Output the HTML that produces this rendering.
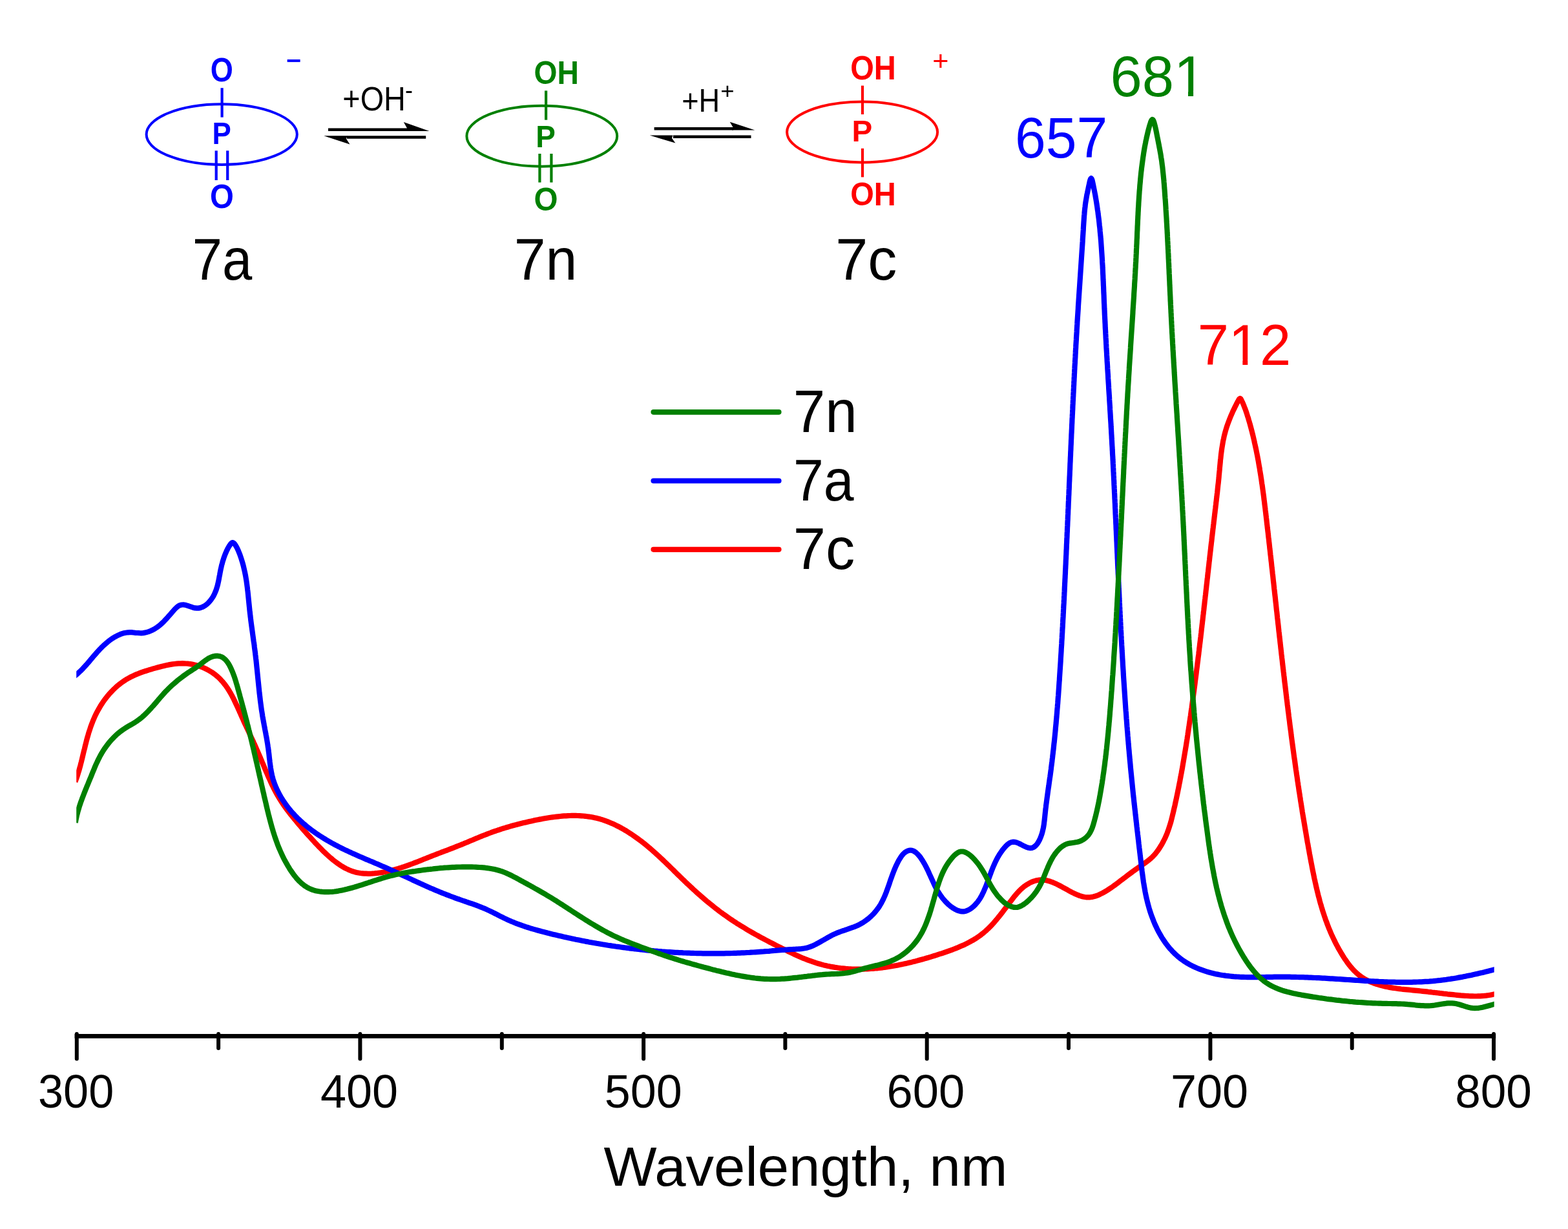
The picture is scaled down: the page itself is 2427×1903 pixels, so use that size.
<!DOCTYPE html>
<html><head><meta charset="utf-8"><style>
html,body{margin:0;padding:0;background:#fff;}
svg{display:block;}
text{font-family:"Liberation Sans",Arial,sans-serif;}
</style></head><body>
<svg xmlns="http://www.w3.org/2000/svg" width="2427" height="1903" viewBox="0 0 2427 1903">
<rect width="2427" height="1903" fill="#fff"/>
<defs><clipPath id="clip_p681" clipPathUnits="userSpaceOnUse"><path clip-rule="evenodd" d="M-50,-176 H352 V88 H-50 Z M95.86,-7.92 H119.68 V4.40 H95.86 Z M127.69,-7.92 H148.90 V4.40 H127.69 Z"/></clipPath><clipPath id="clip_p712" clipPathUnits="userSpaceOnUse"><path clip-rule="evenodd" d="M-50,-176 H352 V88 H-50 Z M46.93,-7.92 H70.75 V4.40 H46.93 Z M78.76,-7.92 H99.97 V4.40 H78.76 Z"/></clipPath></defs>
<path d="M115.6,1604.3 H2315.2" stroke="#000" stroke-width="6.8" fill="none"/>
<line x1="118.8" y1="1601.1" x2="118.8" y2="1639.5" stroke="#000" stroke-width="6" stroke-linecap="round"/>
<text transform="matrix(0.9754,0,0,0.998,59.07,1714.7)" font-size="72" font-weight="normal" fill="#000">300</text>
<line x1="338.1" y1="1601.1" x2="338.1" y2="1623" stroke="#000" stroke-width="6" stroke-linecap="round"/>
<line x1="557.4" y1="1601.1" x2="557.4" y2="1639.5" stroke="#000" stroke-width="6" stroke-linecap="round"/>
<text transform="matrix(0.9991,0,0,1.0098,495.9,1715.0)" font-size="72" font-weight="normal" fill="#000">400</text>
<line x1="776.8" y1="1601.1" x2="776.8" y2="1623" stroke="#000" stroke-width="6" stroke-linecap="round"/>
<line x1="996.1" y1="1601.1" x2="996.1" y2="1639.5" stroke="#000" stroke-width="6" stroke-linecap="round"/>
<text transform="matrix(0.9982,0,0,1.0098,935.71,1715.0)" font-size="72" font-weight="normal" fill="#000">500</text>
<line x1="1215.4" y1="1601.1" x2="1215.4" y2="1623" stroke="#000" stroke-width="6" stroke-linecap="round"/>
<line x1="1434.7" y1="1601.1" x2="1434.7" y2="1639.5" stroke="#000" stroke-width="6" stroke-linecap="round"/>
<text transform="matrix(1.0044,0,0,1.0098,1372.48,1715.0)" font-size="72" font-weight="normal" fill="#000">600</text>
<line x1="1654.0" y1="1601.1" x2="1654.0" y2="1623" stroke="#000" stroke-width="6" stroke-linecap="round"/>
<line x1="1873.4" y1="1601.1" x2="1873.4" y2="1639.5" stroke="#000" stroke-width="6" stroke-linecap="round"/>
<text transform="matrix(1.0,0,0,1.0098,1811.9,1715.0)" font-size="72" font-weight="normal" fill="#000">700</text>
<line x1="2092.7" y1="1601.1" x2="2092.7" y2="1623" stroke="#000" stroke-width="6" stroke-linecap="round"/>
<line x1="2312.0" y1="1601.1" x2="2312.0" y2="1639.5" stroke="#000" stroke-width="6" stroke-linecap="round"/>
<text transform="matrix(0.9877,0,0,1.0118,2252.24,1715.3)" font-size="72" font-weight="normal" fill="#000">800</text>
<text transform="matrix(0.9995,0,0,0.9802,934.4,1836.46)" font-size="87" font-weight="normal" fill="#000">Wavelength, nm</text>
<clipPath id="plotclip"><rect x="118.2" y="0" width="2194.5" height="1903"/></clipPath>
<g clip-path="url(#plotclip)" fill="none" stroke-linejoin="round">
<path d="M116.4,1210.6 117.4,1207.9 118.3,1205.3 119.3,1202.6 120.2,1199.8 121.0,1197.1 121.9,1194.3 122.7,1191.5 123.5,1188.6 124.3,1185.8 125.0,1182.9 125.8,1180.0 126.5,1177.1 127.2,1174.2 127.9,1171.3 128.6,1168.3 129.3,1165.4 130.0,1162.4 130.8,1159.5 131.5,1156.5 132.2,1153.5 133.0,1150.6 133.7,1147.6 134.5,1144.6 135.3,1141.7 136.2,1138.7 137.0,1135.8 137.9,1132.9 138.9,1130.0 139.8,1127.1 140.8,1124.2 141.9,1121.3 143.0,1118.5 144.1,1115.6 145.3,1112.8 146.5,1110.0 147.8,1107.3 149.1,1104.6 150.5,1101.9 152.0,1099.2 153.5,1096.6 155.0,1094.0 156.6,1091.4 158.3,1088.9 159.9,1086.4 161.7,1083.9 163.5,1081.5 165.3,1079.2 167.2,1076.9 169.1,1074.6 171.1,1072.4 173.1,1070.3 175.2,1068.2 177.3,1066.1 179.4,1064.1 181.6,1062.2 183.9,1060.3 186.2,1058.5 188.5,1056.8 190.9,1055.1 193.3,1053.5 195.8,1051.9 198.3,1050.5 200.8,1049.1 203.4,1047.7 206.1,1046.5 208.7,1045.3 211.4,1044.1 214.2,1043.0 216.9,1041.9 219.7,1040.9 222.5,1039.9 225.4,1039.0 228.3,1038.1 231.2,1037.2 234.1,1036.3 237.0,1035.4 240.0,1034.6 243.0,1033.8 245.9,1033.0 248.9,1032.2 252.0,1031.4 255.0,1030.7 258.0,1030.1 261.1,1029.4 264.1,1028.9 267.1,1028.4 270.2,1028.0 273.2,1027.7 276.3,1027.4 279.3,1027.3 282.3,1027.2 285.4,1027.3 288.4,1027.5 291.4,1027.7 294.4,1028.1 297.3,1028.6 300.3,1029.2 303.2,1029.9 306.1,1030.8 308.9,1031.7 311.7,1032.7 314.5,1033.8 317.2,1035.0 319.9,1036.3 322.5,1037.7 325.1,1039.2 327.6,1040.7 330.0,1042.4 332.4,1044.1 334.7,1045.9 336.9,1047.8 339.0,1049.7 341.1,1051.8 343.0,1053.9 345.0,1056.1 346.8,1058.3 348.6,1060.6 350.3,1062.9 351.9,1065.3 353.5,1067.8 355.1,1070.3 356.6,1072.8 358.0,1075.4 359.5,1078.1 360.8,1080.7 362.2,1083.4 363.5,1086.1 364.8,1088.9 366.1,1091.6 367.4,1094.4 368.6,1097.2 369.9,1100.0 371.1,1102.8 372.4,1105.6 373.6,1108.4 374.9,1111.3 376.2,1114.1 377.4,1116.9 378.7,1119.7 380.0,1122.5 381.3,1125.3 382.6,1128.1 383.9,1130.8 385.2,1133.6 386.5,1136.4 387.7,1139.1 389.0,1141.9 390.3,1144.7 391.6,1147.4 392.8,1150.2 394.1,1152.9 395.3,1155.7 396.5,1158.4 397.7,1161.1 398.9,1163.9 400.1,1166.6 401.3,1169.3 402.4,1172.0 403.6,1174.7 404.7,1177.4 405.8,1180.1 407.0,1182.8 408.1,1185.5 409.2,1188.2 410.3,1190.9 411.5,1193.6 412.6,1196.3 413.8,1198.9 414.9,1201.6 416.1,1204.3 417.3,1206.9 418.5,1209.6 419.7,1212.2 420.9,1214.9 422.2,1217.5 423.5,1220.2 424.9,1222.8 426.2,1225.4 427.6,1228.0 429.1,1230.6 430.6,1233.2 432.1,1235.8 433.7,1238.3 435.3,1240.9 437.0,1243.4 438.7,1246.0 440.5,1248.5 442.3,1251.0 444.1,1253.5 446.0,1256.0 447.9,1258.4 449.8,1260.9 451.7,1263.3 453.6,1265.7 455.6,1268.1 457.6,1270.5 459.6,1272.9 461.5,1275.3 463.5,1277.6 465.5,1279.9 467.4,1282.2 469.4,1284.5 471.4,1286.8 473.4,1289.0 475.3,1291.2 477.3,1293.4 479.3,1295.6 481.3,1297.8 483.3,1300.0 485.2,1302.1 487.2,1304.3 489.2,1306.4 491.2,1308.5 493.2,1310.6 495.2,1312.7 497.2,1314.7 499.3,1316.8 501.3,1318.8 503.4,1320.8 505.5,1322.8 507.7,1324.8 509.9,1326.8 512.2,1328.7 514.5,1330.7 516.9,1332.6 519.4,1334.5 521.9,1336.3 524.4,1338.1 527.0,1339.9 529.6,1341.5 532.3,1343.1 535.0,1344.6 537.8,1345.9 540.6,1347.2 543.4,1348.3 546.3,1349.3 549.1,1350.2 552.0,1350.9 554.9,1351.5 557.9,1352.0 560.8,1352.3 563.8,1352.6 566.7,1352.7 569.7,1352.8 572.7,1352.8 575.6,1352.7 578.6,1352.5 581.6,1352.2 584.5,1351.9 587.5,1351.5 590.4,1351.1 593.3,1350.6 596.2,1350.0 599.2,1349.4 602.1,1348.8 605.0,1348.1 607.9,1347.3 610.7,1346.6 613.6,1345.7 616.5,1344.9 619.4,1344.0 622.2,1343.0 625.1,1342.1 628.0,1341.1 630.8,1340.1 633.6,1339.1 636.5,1338.0 639.3,1337.0 642.1,1335.9 645.0,1334.8 647.8,1333.7 650.6,1332.6 653.4,1331.5 656.2,1330.3 659.0,1329.2 661.8,1328.1 664.6,1327.0 667.4,1325.9 670.2,1324.8 673.0,1323.7 675.8,1322.6 678.6,1321.5 681.4,1320.5 684.1,1319.4 686.9,1318.4 689.7,1317.3 692.5,1316.3 695.2,1315.2 698.0,1314.1 700.8,1313.1 703.6,1312.0 706.3,1310.9 709.1,1309.8 711.9,1308.7 714.6,1307.6 717.4,1306.5 720.2,1305.3 723.0,1304.2 725.7,1303.0 728.5,1301.8 731.3,1300.7 734.1,1299.5 736.9,1298.3 739.6,1297.2 742.4,1296.0 745.2,1294.9 748.0,1293.8 750.8,1292.7 753.6,1291.6 756.4,1290.5 759.2,1289.5 762.0,1288.4 764.8,1287.4 767.7,1286.5 770.5,1285.5 773.3,1284.6 776.1,1283.6 779.0,1282.7 781.8,1281.9 784.7,1281.0 787.5,1280.2 790.4,1279.3 793.2,1278.5 796.1,1277.7 799.0,1277.0 801.9,1276.2 804.8,1275.5 807.7,1274.8 810.6,1274.1 813.5,1273.4 816.4,1272.7 819.3,1272.0 822.3,1271.4 825.2,1270.8 828.2,1270.1 831.1,1269.5 834.1,1268.9 837.1,1268.4 840.1,1267.8 843.1,1267.3 846.1,1266.8 849.1,1266.3 852.1,1265.8 855.1,1265.4 858.1,1265.0 861.1,1264.6 864.1,1264.3 867.1,1264.0 870.1,1263.7 873.1,1263.4 876.1,1263.3 879.1,1263.1 882.1,1263.0 885.1,1262.9 888.1,1262.9 891.1,1262.9 894.0,1263.0 897.0,1263.1 900.0,1263.3 902.9,1263.5 905.9,1263.8 908.8,1264.2 911.7,1264.6 914.6,1265.0 917.5,1265.6 920.4,1266.2 923.3,1266.8 926.2,1267.6 929.0,1268.3 931.9,1269.2 934.7,1270.1 937.5,1271.1 940.3,1272.1 943.0,1273.2 945.8,1274.4 948.5,1275.6 951.3,1276.8 954.0,1278.2 956.7,1279.5 959.4,1280.9 962.0,1282.4 964.7,1283.8 967.3,1285.4 969.9,1286.9 972.5,1288.6 975.0,1290.2 977.6,1291.9 980.1,1293.6 982.6,1295.3 985.1,1297.1 987.6,1298.9 990.0,1300.7 992.5,1302.6 994.9,1304.4 997.3,1306.3 999.6,1308.2 1002.0,1310.2 1004.3,1312.1 1006.6,1314.0 1008.9,1316.0 1011.1,1318.0 1013.4,1320.0 1015.6,1322.0 1017.8,1324.0 1020.0,1326.0 1022.1,1328.0 1024.3,1330.0 1026.4,1332.0 1028.6,1334.1 1030.7,1336.1 1032.8,1338.2 1035.0,1340.2 1037.1,1342.3 1039.2,1344.4 1041.3,1346.4 1043.4,1348.5 1045.5,1350.6 1047.6,1352.7 1049.7,1354.7 1051.9,1356.8 1054.0,1358.9 1056.1,1361.0 1058.3,1363.0 1060.4,1365.1 1062.6,1367.2 1064.8,1369.3 1067.0,1371.3 1069.2,1373.4 1071.4,1375.4 1073.6,1377.5 1075.9,1379.5 1078.1,1381.6 1080.4,1383.6 1082.7,1385.6 1085.0,1387.6 1087.3,1389.6 1089.6,1391.6 1091.9,1393.6 1094.2,1395.6 1096.6,1397.5 1098.9,1399.4 1101.3,1401.3 1103.6,1403.2 1106.0,1405.1 1108.4,1407.0 1110.8,1408.8 1113.2,1410.7 1115.6,1412.5 1118.0,1414.2 1120.4,1416.0 1122.9,1417.7 1125.3,1419.4 1127.7,1421.1 1130.2,1422.8 1132.7,1424.5 1135.1,1426.1 1137.6,1427.7 1140.1,1429.4 1142.6,1430.9 1145.1,1432.5 1147.6,1434.1 1150.1,1435.6 1152.6,1437.1 1155.2,1438.7 1157.7,1440.2 1160.2,1441.7 1162.8,1443.1 1165.4,1444.6 1167.9,1446.1 1170.5,1447.5 1173.1,1448.9 1175.7,1450.4 1178.3,1451.8 1180.9,1453.2 1183.6,1454.6 1186.2,1456.0 1188.9,1457.4 1191.5,1458.8 1194.2,1460.2 1196.8,1461.5 1199.5,1462.9 1202.2,1464.3 1204.9,1465.7 1207.6,1467.0 1210.3,1468.4 1213.1,1469.7 1215.8,1471.1 1218.6,1472.4 1221.3,1473.8 1224.1,1475.1 1226.8,1476.4 1229.6,1477.7 1232.4,1479.0 1235.2,1480.2 1238.0,1481.5 1240.8,1482.7 1243.6,1483.9 1246.5,1485.0 1249.3,1486.1 1252.1,1487.2 1255.0,1488.2 1257.8,1489.2 1260.7,1490.2 1263.5,1491.1 1266.4,1492.0 1269.3,1492.8 1272.2,1493.6 1275.1,1494.4 1278.0,1495.0 1280.9,1495.7 1283.8,1496.3 1286.7,1496.9 1289.6,1497.4 1292.5,1497.9 1295.4,1498.3 1298.3,1498.7 1301.3,1499.1 1304.2,1499.4 1307.1,1499.7 1310.1,1500.0 1313.0,1500.2 1316.0,1500.3 1318.9,1500.5 1321.9,1500.6 1324.8,1500.7 1327.8,1500.7 1330.7,1500.7 1333.7,1500.7 1336.7,1500.6 1339.6,1500.5 1342.6,1500.4 1345.6,1500.2 1348.5,1500.0 1351.5,1499.8 1354.5,1499.5 1357.4,1499.3 1360.4,1499.0 1363.4,1498.6 1366.3,1498.3 1369.3,1497.9 1372.3,1497.5 1375.2,1497.0 1378.2,1496.5 1381.2,1496.0 1384.2,1495.5 1387.1,1495.0 1390.1,1494.4 1393.0,1493.8 1396.0,1493.2 1399.0,1492.6 1401.9,1491.9 1404.9,1491.3 1407.8,1490.6 1410.8,1489.9 1413.7,1489.1 1416.7,1488.4 1419.6,1487.6 1422.6,1486.8 1425.5,1486.0 1428.4,1485.2 1431.3,1484.4 1434.3,1483.5 1437.2,1482.7 1440.1,1481.8 1443.0,1480.9 1445.9,1480.0 1448.8,1479.1 1451.7,1478.1 1454.6,1477.2 1457.5,1476.3 1460.4,1475.3 1463.2,1474.3 1466.1,1473.3 1468.9,1472.3 1471.8,1471.3 1474.6,1470.3 1477.4,1469.2 1480.2,1468.1 1483.0,1467.0 1485.7,1465.8 1488.5,1464.6 1491.2,1463.4 1493.9,1462.2 1496.5,1460.9 1499.1,1459.5 1501.7,1458.1 1504.3,1456.7 1506.8,1455.3 1509.3,1453.7 1511.8,1452.2 1514.2,1450.5 1516.6,1448.8 1518.9,1447.1 1521.2,1445.3 1523.5,1443.4 1525.7,1441.5 1527.8,1439.5 1530.0,1437.5 1532.1,1435.4 1534.1,1433.3 1536.2,1431.1 1538.2,1428.9 1540.1,1426.6 1542.1,1424.3 1544.0,1422.0 1545.9,1419.6 1547.8,1417.3 1549.7,1414.9 1551.6,1412.4 1553.4,1410.0 1555.3,1407.5 1557.2,1405.1 1559.0,1402.6 1560.9,1400.1 1562.7,1397.6 1564.6,1395.2 1566.5,1392.7 1568.4,1390.2 1570.3,1387.8 1572.3,1385.5 1574.3,1383.1 1576.4,1380.9 1578.5,1378.7 1580.6,1376.6 1582.9,1374.6 1585.2,1372.7 1587.6,1371.0 1590.0,1369.4 1592.5,1367.9 1595.1,1366.5 1597.7,1365.4 1600.4,1364.4 1603.1,1363.6 1605.8,1363.0 1608.6,1362.6 1611.4,1362.4 1614.2,1362.5 1617.0,1362.8 1619.8,1363.3 1622.6,1364.0 1625.5,1364.8 1628.3,1365.8 1631.1,1367.0 1634.0,1368.2 1636.8,1369.6 1639.6,1371.0 1642.5,1372.5 1645.3,1374.1 1648.1,1375.6 1651.0,1377.2 1653.8,1378.8 1656.7,1380.3 1659.5,1381.8 1662.3,1383.2 1665.1,1384.5 1667.9,1385.7 1670.8,1386.8 1673.6,1387.7 1676.4,1388.5 1679.1,1389.0 1681.9,1389.3 1684.7,1389.4 1687.4,1389.3 1690.2,1388.9 1692.9,1388.3 1695.7,1387.5 1698.4,1386.6 1701.1,1385.5 1703.7,1384.2 1706.4,1382.9 1709.1,1381.4 1711.7,1379.9 1714.3,1378.2 1716.9,1376.5 1719.5,1374.8 1722.1,1373.0 1724.7,1371.1 1727.2,1369.3 1729.7,1367.4 1732.2,1365.5 1734.7,1363.6 1737.2,1361.7 1739.7,1359.8 1742.2,1357.9 1744.6,1356.0 1747.1,1354.2 1749.5,1352.4 1751.9,1350.6 1754.3,1348.8 1756.7,1347.1 1759.1,1345.4 1761.4,1343.7 1763.8,1342.0 1766.1,1340.4 1768.5,1338.8 1770.8,1337.3 1773.1,1335.6 1775.3,1334.0 1777.5,1332.3 1779.7,1330.5 1781.9,1328.6 1784.0,1326.6 1786.0,1324.5 1788.1,1322.2 1790.0,1319.8 1791.9,1317.3 1793.7,1314.7 1795.4,1312.0 1797.1,1309.3 1798.7,1306.6 1800.2,1303.8 1801.6,1301.0 1803.0,1298.3 1804.3,1295.5 1805.5,1292.7 1806.6,1289.9 1807.6,1287.1 1808.6,1284.3 1809.6,1281.4 1810.5,1278.6 1811.4,1275.8 1812.2,1273.0 1813.0,1270.1 1813.7,1267.3 1814.4,1264.4 1815.1,1261.5 1815.8,1258.7 1816.5,1255.8 1817.1,1252.9 1817.8,1250.1 1818.5,1247.2 1819.1,1244.3 1819.7,1241.4 1820.4,1238.5 1821.0,1235.6 1821.6,1232.7 1822.2,1229.8 1822.8,1226.9 1823.4,1223.9 1824.0,1221.0 1824.6,1218.1 1825.1,1215.2 1825.7,1212.2 1826.3,1209.3 1826.8,1206.4 1827.4,1203.4 1827.9,1200.5 1828.5,1197.5 1829.0,1194.6 1829.6,1191.6 1830.1,1188.7 1830.6,1185.7 1831.1,1182.7 1831.6,1179.8 1832.1,1176.8 1832.6,1173.8 1833.1,1170.9 1833.6,1167.9 1834.1,1164.9 1834.6,1162.0 1835.1,1159.0 1835.6,1156.0 1836.1,1153.0 1836.5,1150.1 1837.0,1147.1 1837.5,1144.1 1837.9,1141.1 1838.4,1138.1 1838.8,1135.1 1839.3,1132.2 1839.7,1129.2 1840.2,1126.2 1840.6,1123.2 1841.0,1120.2 1841.5,1117.3 1841.9,1114.3 1842.3,1111.3 1842.8,1108.3 1843.2,1105.3 1843.6,1102.4 1844.0,1099.4 1844.5,1096.4 1844.9,1093.4 1845.3,1090.4 1845.7,1087.4 1846.1,1084.5 1846.5,1081.5 1846.9,1078.5 1847.3,1075.5 1847.7,1072.5 1848.1,1069.6 1848.5,1066.6 1848.9,1063.6 1849.3,1060.6 1849.7,1057.7 1850.0,1054.7 1850.4,1051.7 1850.8,1048.7 1851.2,1045.7 1851.6,1042.8 1851.9,1039.8 1852.3,1036.8 1852.7,1033.8 1853.1,1030.8 1853.4,1027.9 1853.8,1024.9 1854.2,1021.9 1854.5,1018.9 1854.9,1016.0 1855.3,1013.0 1855.6,1010.0 1856.0,1007.0 1856.3,1004.0 1856.7,1001.1 1857.0,998.1 1857.4,995.1 1857.8,992.1 1858.1,989.2 1858.5,986.2 1858.8,983.2 1859.2,980.2 1859.5,977.3 1859.8,974.3 1860.2,971.3 1860.5,968.3 1860.9,965.4 1861.2,962.4 1861.6,959.4 1861.9,956.4 1862.2,953.5 1862.6,950.5 1862.9,947.5 1863.3,944.5 1863.6,941.6 1863.9,938.6 1864.3,935.6 1864.6,932.6 1864.9,929.7 1865.3,926.7 1865.6,923.7 1866.0,920.7 1866.3,917.8 1866.6,914.8 1867.0,911.8 1867.3,908.8 1867.6,905.9 1868.0,902.9 1868.3,899.9 1868.6,896.9 1869.0,894.0 1869.3,891.0 1869.6,888.0 1870.0,885.0 1870.3,882.1 1870.6,879.1 1871.0,876.1 1871.3,873.2 1871.6,870.2 1872.0,867.2 1872.3,864.2 1872.6,861.3 1873.0,858.3 1873.3,855.3 1873.7,852.3 1874.0,849.4 1874.3,846.4 1874.7,843.4 1875.0,840.5 1875.4,837.5 1875.7,834.5 1876.0,831.5 1876.4,828.6 1876.7,825.6 1877.1,822.6 1877.4,819.6 1877.8,816.7 1878.1,813.7 1878.5,810.7 1878.8,807.8 1879.2,804.8 1879.5,801.8 1879.9,798.8 1880.2,795.9 1880.6,792.9 1880.9,789.9 1881.3,787.0 1881.6,784.0 1882.0,781.0 1882.3,778.0 1882.7,775.1 1883.0,772.1 1883.4,769.1 1883.7,766.1 1884.1,763.2 1884.4,760.2 1884.7,757.2 1885.0,754.2 1885.3,751.3 1885.7,748.3 1886.0,745.3 1886.3,742.3 1886.6,739.4 1886.8,736.4 1887.1,733.4 1887.4,730.4 1887.7,727.4 1887.9,724.5 1888.2,721.5 1888.5,718.5 1888.8,715.5 1889.0,712.5 1889.4,709.5 1889.7,706.6 1890.0,703.6 1890.4,700.6 1890.8,697.6 1891.2,694.6 1891.7,691.6 1892.2,688.6 1892.7,685.6 1893.2,682.6 1893.9,679.6 1894.5,676.6 1895.2,673.6 1896.0,670.6 1896.8,667.6 1897.7,664.6 1898.6,661.6 1899.6,658.6 1900.7,655.6 1901.8,652.6 1902.9,649.7 1904.1,646.7 1905.3,643.8 1906.6,640.9 1907.8,638.1 1909.1,635.3 1910.4,632.6 1911.7,629.9 1913.0,627.3 1914.3,624.7 1915.6,622.3 1916.9,619.9 1918.1,617.8 1919.4,616.9 1920.6,617.8 1921.7,619.9 1922.9,622.4 1924.0,624.9 1925.1,627.5 1926.1,630.2 1927.2,632.9 1928.2,635.7 1929.2,638.5 1930.1,641.4 1931.0,644.3 1932.0,647.2 1932.8,650.1 1933.7,653.1 1934.6,656.1 1935.4,659.1 1936.2,662.1 1937.0,665.1 1937.8,668.1 1938.5,671.1 1939.3,674.1 1940.0,677.1 1940.7,680.1 1941.4,683.1 1942.0,686.1 1942.7,689.1 1943.3,692.0 1944.0,695.0 1944.6,698.0 1945.2,701.0 1945.8,704.0 1946.4,707.0 1946.9,709.9 1947.5,712.9 1948.0,715.9 1948.5,718.9 1949.0,721.9 1949.6,724.8 1950.0,727.8 1950.5,730.8 1951.0,733.8 1951.5,736.7 1951.9,739.7 1952.4,742.7 1952.8,745.7 1953.2,748.6 1953.7,751.6 1954.1,754.6 1954.5,757.5 1954.9,760.5 1955.3,763.5 1955.7,766.4 1956.1,769.4 1956.4,772.4 1956.8,775.3 1957.2,778.3 1957.5,781.3 1957.9,784.2 1958.3,787.2 1958.6,790.2 1959.0,793.1 1959.3,796.1 1959.7,799.1 1960.0,802.0 1960.4,805.0 1960.7,808.0 1961.0,810.9 1961.4,813.9 1961.7,816.9 1962.1,819.9 1962.4,822.8 1962.8,825.8 1963.1,828.8 1963.4,831.7 1963.8,834.7 1964.1,837.7 1964.4,840.6 1964.8,843.6 1965.1,846.6 1965.4,849.6 1965.8,852.5 1966.1,855.5 1966.4,858.5 1966.8,861.5 1967.1,864.4 1967.4,867.4 1967.8,870.4 1968.1,873.3 1968.4,876.3 1968.7,879.3 1969.1,882.3 1969.4,885.2 1969.7,888.2 1970.1,891.2 1970.4,894.2 1970.7,897.1 1971.0,900.1 1971.4,903.1 1971.7,906.1 1972.0,909.0 1972.3,912.0 1972.7,915.0 1973.0,918.0 1973.3,920.9 1973.7,923.9 1974.0,926.9 1974.3,929.9 1974.6,932.8 1975.0,935.8 1975.3,938.8 1975.6,941.8 1975.9,944.8 1976.3,947.7 1976.6,950.7 1976.9,953.7 1977.2,956.7 1977.6,959.6 1977.9,962.6 1978.2,965.6 1978.6,968.6 1978.9,971.6 1979.2,974.5 1979.5,977.5 1979.9,980.5 1980.2,983.5 1980.5,986.4 1980.9,989.4 1981.2,992.4 1981.5,995.4 1981.9,998.4 1982.2,1001.3 1982.5,1004.3 1982.9,1007.3 1983.2,1010.3 1983.5,1013.2 1983.9,1016.2 1984.2,1019.2 1984.6,1022.2 1984.9,1025.2 1985.2,1028.1 1985.6,1031.1 1985.9,1034.1 1986.3,1037.1 1986.6,1040.0 1987.0,1043.0 1987.3,1046.0 1987.7,1049.0 1988.0,1052.0 1988.3,1054.9 1988.7,1057.9 1989.1,1060.9 1989.4,1063.9 1989.8,1066.8 1990.1,1069.8 1990.5,1072.8 1990.8,1075.8 1991.2,1078.8 1991.5,1081.7 1991.9,1084.7 1992.3,1087.7 1992.6,1090.7 1993.0,1093.6 1993.4,1096.6 1993.7,1099.6 1994.1,1102.6 1994.5,1105.5 1994.8,1108.5 1995.2,1111.5 1995.6,1114.5 1996.0,1117.4 1996.3,1120.4 1996.7,1123.4 1997.1,1126.4 1997.5,1129.4 1997.9,1132.3 1998.3,1135.3 1998.6,1138.3 1999.0,1141.3 1999.4,1144.2 1999.8,1147.2 2000.2,1150.2 2000.6,1153.1 2001.0,1156.1 2001.4,1159.1 2001.8,1162.1 2002.2,1165.0 2002.6,1168.0 2003.0,1171.0 2003.4,1174.0 2003.9,1176.9 2004.3,1179.9 2004.7,1182.9 2005.1,1185.8 2005.5,1188.8 2005.9,1191.8 2006.4,1194.8 2006.8,1197.7 2007.2,1200.7 2007.7,1203.7 2008.1,1206.6 2008.5,1209.6 2009.0,1212.6 2009.4,1215.6 2009.9,1218.5 2010.3,1221.5 2010.7,1224.5 2011.2,1227.4 2011.7,1230.4 2012.1,1233.4 2012.6,1236.3 2013.0,1239.3 2013.5,1242.3 2014.0,1245.2 2014.4,1248.2 2014.9,1251.2 2015.4,1254.1 2015.8,1257.1 2016.3,1260.1 2016.8,1263.0 2017.3,1266.0 2017.8,1268.9 2018.3,1271.9 2018.8,1274.9 2019.3,1277.8 2019.8,1280.8 2020.3,1283.8 2020.8,1286.7 2021.3,1289.7 2021.8,1292.6 2022.3,1295.6 2022.8,1298.6 2023.3,1301.5 2023.8,1304.5 2024.4,1307.4 2024.9,1310.4 2025.4,1313.4 2026.0,1316.3 2026.5,1319.3 2027.0,1322.2 2027.6,1325.2 2028.1,1328.1 2028.7,1331.1 2029.2,1334.1 2029.8,1337.0 2030.4,1340.0 2030.9,1342.9 2031.5,1345.9 2032.1,1348.8 2032.7,1351.8 2033.3,1354.7 2033.9,1357.6 2034.5,1360.6 2035.2,1363.5 2035.8,1366.4 2036.5,1369.4 2037.1,1372.3 2037.8,1375.2 2038.5,1378.1 2039.2,1381.0 2039.9,1383.9 2040.6,1386.8 2041.4,1389.7 2042.2,1392.6 2042.9,1395.5 2043.7,1398.4 2044.6,1401.2 2045.4,1404.1 2046.3,1407.0 2047.1,1409.8 2048.0,1412.6 2049.0,1415.5 2049.9,1418.3 2050.9,1421.1 2051.8,1423.9 2052.9,1426.7 2053.9,1429.5 2054.9,1432.3 2056.0,1435.1 2057.1,1437.9 2058.3,1440.6 2059.4,1443.4 2060.6,1446.1 2061.8,1448.8 2063.1,1451.5 2064.4,1454.2 2065.7,1456.9 2067.0,1459.6 2068.4,1462.3 2069.8,1464.9 2071.2,1467.6 2072.7,1470.2 2074.2,1472.8 2075.7,1475.4 2077.3,1478.0 2078.9,1480.6 2080.5,1483.2 2082.2,1485.7 2084.0,1488.2 2085.7,1490.7 2087.5,1493.1 2089.4,1495.5 2091.3,1497.8 2093.3,1500.1 2095.3,1502.3 2097.4,1504.4 2099.6,1506.5 2101.8,1508.4 2104.1,1510.3 2106.5,1512.1 2108.9,1513.8 2111.4,1515.4 2114.0,1516.8 2116.6,1518.2 2119.3,1519.5 2122.0,1520.7 2124.8,1521.8 2127.6,1522.9 2130.4,1523.8 2133.3,1524.7 2136.2,1525.6 2139.1,1526.3 2142.0,1527.0 2144.9,1527.7 2147.9,1528.3 2150.8,1528.9 2153.8,1529.4 2156.8,1529.9 2159.8,1530.3 2162.8,1530.7 2165.8,1531.1 2168.8,1531.5 2171.8,1531.8 2174.8,1532.1 2177.8,1532.4 2180.9,1532.7 2183.9,1533.0 2186.9,1533.3 2189.9,1533.6 2192.9,1533.9 2195.9,1534.2 2198.9,1534.5 2201.9,1534.8 2204.9,1535.1 2207.9,1535.4 2210.9,1535.8 2213.8,1536.1 2216.8,1536.5 2219.8,1536.8 2222.7,1537.2 2225.7,1537.5 2228.7,1537.9 2231.6,1538.2 2234.6,1538.6 2237.5,1538.9 2240.5,1539.3 2243.4,1539.6 2246.4,1539.9 2249.4,1540.2 2252.3,1540.5 2255.3,1540.8 2258.3,1541.1 2261.2,1541.4 2264.2,1541.6 2267.2,1541.8 2270.2,1542.0 2273.2,1542.2 2276.2,1542.3 2279.2,1542.4 2282.2,1542.5 2285.2,1542.5 2288.2,1542.4 2291.2,1542.3 2294.2,1542.1 2297.2,1541.9 2300.1,1541.6 2303.1,1541.2 2306.1,1540.8 2309.1,1540.2 2312.1,1539.6 2315.0,1538.9 2318.0,1538.1" stroke="#ff0000" stroke-width="8.2"/>
<path d="M113.3,1048.7 115.7,1046.8 118.1,1044.9 120.4,1042.9 122.6,1040.8 124.8,1038.8 126.9,1036.7 128.9,1034.5 130.9,1032.3 132.9,1030.2 134.9,1027.9 136.8,1025.7 138.7,1023.5 140.6,1021.2 142.5,1019.0 144.4,1016.7 146.3,1014.5 148.3,1012.2 150.2,1010.0 152.2,1007.8 154.2,1005.7 156.3,1003.5 158.4,1001.4 160.5,999.3 162.8,997.3 165.1,995.3 167.4,993.4 169.8,991.5 172.4,989.7 175.0,987.9 177.6,986.3 180.4,984.8 183.2,983.4 186.0,982.2 188.9,981.1 191.8,980.3 194.7,979.7 197.7,979.3 200.7,979.1 203.7,979.2 206.7,979.5 209.7,979.8 212.7,980.0 215.7,980.2 218.6,980.3 221.5,980.1 224.4,979.6 227.3,978.9 230.1,978.1 232.8,977.0 235.5,975.8 238.1,974.4 240.6,972.9 243.0,971.3 245.4,969.6 247.6,967.8 249.8,965.9 252.0,963.9 254.1,961.8 256.1,959.6 258.2,957.4 260.2,955.1 262.3,952.8 264.4,950.4 266.5,947.9 268.7,945.4 270.9,942.9 273.3,940.6 275.7,938.6 278.3,937.2 281.0,936.5 283.8,936.4 286.7,936.8 289.7,937.6 292.7,938.7 295.7,939.7 298.7,940.7 301.6,941.4 304.5,941.7 307.3,941.6 310.1,941.1 312.7,940.2 315.2,939.0 317.7,937.5 320.0,935.8 322.2,933.8 324.2,931.6 326.2,929.2 327.9,926.7 329.6,924.2 331.1,921.5 332.4,918.8 333.5,916.1 334.6,913.4 335.5,910.6 336.3,907.8 337.1,905.0 337.7,902.1 338.3,899.3 338.9,896.4 339.4,893.4 340.0,890.5 340.5,887.5 341.1,884.4 341.7,881.4 342.4,878.3 343.1,875.2 344.0,872.1 344.8,869.0 345.8,865.9 346.8,862.8 347.9,859.8 349.1,856.9 350.3,854.1 351.6,851.3 352.9,848.7 354.3,846.3 355.8,844.0 357.2,841.9 358.8,840.4 360.3,840.0 361.8,840.9 363.2,842.4 364.6,844.4 366.0,846.8 367.4,849.4 368.7,852.2 369.9,855.2 371.1,858.2 372.2,861.3 373.2,864.3 374.2,867.4 375.1,870.4 376.0,873.5 376.8,876.5 377.5,879.6 378.2,882.6 378.9,885.6 379.5,888.6 380.1,891.6 380.6,894.7 381.1,897.7 381.6,900.7 382.0,903.7 382.4,906.7 382.8,909.7 383.1,912.7 383.5,915.7 383.8,918.7 384.1,921.6 384.4,924.6 384.7,927.6 385.0,930.6 385.3,933.6 385.6,936.5 385.9,939.5 386.2,942.5 386.5,945.5 386.8,948.4 387.2,951.4 387.5,954.4 387.9,957.3 388.2,960.3 388.6,963.3 389.0,966.2 389.4,969.2 389.8,972.1 390.2,975.1 390.6,978.0 391.0,981.0 391.4,984.0 391.8,986.9 392.2,989.9 392.6,992.8 393.1,995.8 393.5,998.7 393.8,1001.7 394.2,1004.7 394.6,1007.6 395.0,1010.6 395.3,1013.5 395.7,1016.5 396.0,1019.5 396.4,1022.4 396.7,1025.4 397.0,1028.4 397.3,1031.3 397.6,1034.3 397.9,1037.2 398.2,1040.2 398.5,1043.2 398.8,1046.1 399.1,1049.1 399.4,1052.1 399.7,1055.1 400.0,1058.0 400.3,1061.0 400.6,1064.0 400.9,1066.9 401.2,1069.9 401.5,1072.9 401.9,1075.9 402.2,1078.8 402.6,1081.8 402.9,1084.8 403.3,1087.8 403.7,1090.8 404.1,1093.7 404.5,1096.7 404.9,1099.7 405.4,1102.7 405.9,1105.6 406.3,1108.6 406.8,1111.6 407.4,1114.6 407.9,1117.6 408.5,1120.6 409.0,1123.5 409.6,1126.5 410.1,1129.5 410.7,1132.5 411.3,1135.5 411.8,1138.5 412.4,1141.4 412.9,1144.4 413.4,1147.4 413.9,1150.4 414.4,1153.4 414.8,1156.4 415.3,1159.4 415.6,1162.3 416.0,1165.3 416.4,1168.3 416.7,1171.3 417.0,1174.3 417.4,1177.2 417.7,1180.2 418.1,1183.2 418.5,1186.1 418.9,1189.1 419.4,1192.0 419.9,1194.9 420.5,1197.8 421.1,1200.7 421.8,1203.6 422.6,1206.4 423.5,1209.2 424.5,1212.1 425.5,1214.8 426.6,1217.6 427.8,1220.4 429.0,1223.1 430.3,1225.8 431.7,1228.4 433.1,1231.1 434.6,1233.7 436.1,1236.3 437.7,1238.8 439.4,1241.3 441.1,1243.8 442.8,1246.3 444.6,1248.7 446.4,1251.0 448.3,1253.4 450.2,1255.7 452.2,1257.9 454.2,1260.1 456.2,1262.3 458.3,1264.5 460.4,1266.6 462.6,1268.7 464.8,1270.8 467.0,1272.8 469.2,1274.8 471.5,1276.7 473.8,1278.7 476.2,1280.6 478.5,1282.4 480.9,1284.3 483.3,1286.1 485.8,1287.8 488.2,1289.6 490.7,1291.3 493.2,1293.0 495.7,1294.6 498.3,1296.3 500.8,1297.9 503.4,1299.4 506.0,1301.0 508.6,1302.5 511.2,1304.0 513.8,1305.5 516.4,1306.9 519.0,1308.3 521.7,1309.7 524.3,1311.1 527.0,1312.4 529.6,1313.8 532.3,1315.1 535.0,1316.4 537.7,1317.6 540.4,1318.9 543.1,1320.1 545.8,1321.4 548.5,1322.6 551.2,1323.8 553.9,1325.0 556.6,1326.2 559.3,1327.3 562.1,1328.5 564.8,1329.7 567.5,1330.9 570.3,1332.0 573.0,1333.2 575.8,1334.3 578.5,1335.5 581.2,1336.7 584.0,1337.8 586.7,1339.0 589.5,1340.2 592.2,1341.4 595.0,1342.6 597.8,1343.8 600.5,1345.0 603.3,1346.2 606.0,1347.4 608.8,1348.7 611.5,1349.9 614.3,1351.2 617.0,1352.5 619.8,1353.7 622.5,1355.0 625.3,1356.3 628.0,1357.6 630.8,1358.8 633.5,1360.1 636.3,1361.4 639.0,1362.7 641.8,1364.0 644.5,1365.2 647.3,1366.5 650.0,1367.8 652.8,1369.0 655.5,1370.3 658.3,1371.5 661.0,1372.7 663.8,1373.9 666.5,1375.2 669.3,1376.3 672.0,1377.5 674.8,1378.7 677.5,1379.8 680.3,1381.0 683.1,1382.1 685.8,1383.2 688.6,1384.3 691.3,1385.4 694.1,1386.4 696.8,1387.5 699.6,1388.5 702.4,1389.5 705.1,1390.6 707.9,1391.6 710.7,1392.5 713.4,1393.5 716.2,1394.5 718.9,1395.4 721.7,1396.4 724.5,1397.3 727.3,1398.3 730.0,1399.2 732.8,1400.2 735.6,1401.2 738.3,1402.2 741.1,1403.3 743.9,1404.4 746.7,1405.5 749.5,1406.6 752.2,1407.8 755.0,1409.1 757.8,1410.4 760.6,1411.7 763.4,1413.1 766.2,1414.5 769.0,1415.9 771.8,1417.4 774.6,1418.8 777.4,1420.2 780.2,1421.6 783.0,1422.9 785.8,1424.2 788.6,1425.4 791.4,1426.7 794.2,1427.8 797.0,1429.0 799.8,1430.1 802.6,1431.1 805.5,1432.2 808.3,1433.2 811.1,1434.1 813.9,1435.1 816.8,1436.0 819.6,1436.9 822.4,1437.8 825.3,1438.6 828.1,1439.4 831.0,1440.2 833.8,1441.0 836.7,1441.8 839.5,1442.6 842.4,1443.3 845.2,1444.0 848.1,1444.8 851.0,1445.5 853.8,1446.2 856.7,1446.9 859.6,1447.6 862.5,1448.3 865.3,1448.9 868.2,1449.6 871.1,1450.3 874.0,1450.9 876.9,1451.6 879.8,1452.2 882.7,1452.8 885.6,1453.4 888.5,1454.1 891.4,1454.7 894.3,1455.2 897.2,1455.8 900.2,1456.4 903.1,1457.0 906.0,1457.6 908.9,1458.1 911.9,1458.7 914.8,1459.2 917.7,1459.7 920.7,1460.2 923.6,1460.8 926.5,1461.3 929.5,1461.8 932.4,1462.3 935.4,1462.7 938.3,1463.2 941.3,1463.7 944.2,1464.1 947.2,1464.6 950.1,1465.0 953.1,1465.5 956.1,1465.9 959.0,1466.3 962.0,1466.7 964.9,1467.1 967.9,1467.5 970.9,1467.9 973.9,1468.3 976.8,1468.6 979.8,1469.0 982.8,1469.3 985.8,1469.7 988.7,1470.0 991.7,1470.3 994.7,1470.7 997.7,1471.0 1000.7,1471.3 1003.7,1471.6 1006.7,1471.8 1009.7,1472.1 1012.6,1472.4 1015.6,1472.6 1018.6,1472.9 1021.6,1473.1 1024.6,1473.4 1027.6,1473.6 1030.6,1473.8 1033.6,1474.0 1036.6,1474.2 1039.6,1474.4 1042.6,1474.6 1045.6,1474.8 1048.6,1474.9 1051.7,1475.1 1054.7,1475.2 1057.7,1475.4 1060.7,1475.5 1063.7,1475.6 1066.7,1475.7 1069.7,1475.8 1072.7,1475.9 1075.7,1476.0 1078.7,1476.1 1081.8,1476.2 1084.8,1476.2 1087.8,1476.3 1090.8,1476.3 1093.8,1476.3 1096.8,1476.4 1099.8,1476.4 1102.8,1476.4 1105.9,1476.4 1108.9,1476.4 1111.9,1476.4 1114.9,1476.3 1117.9,1476.3 1120.9,1476.3 1124.0,1476.2 1127.0,1476.1 1130.0,1476.1 1133.0,1476.0 1136.0,1475.9 1139.0,1475.8 1142.0,1475.7 1145.1,1475.6 1148.1,1475.4 1151.1,1475.3 1154.1,1475.2 1157.1,1475.0 1160.1,1474.9 1163.1,1474.7 1166.1,1474.5 1169.2,1474.3 1172.2,1474.1 1175.2,1473.9 1178.2,1473.7 1181.2,1473.5 1184.2,1473.2 1187.2,1473.0 1190.2,1472.8 1193.2,1472.5 1196.2,1472.2 1199.2,1472.0 1202.2,1471.7 1205.2,1471.5 1208.1,1471.2 1211.1,1471.0 1214.1,1470.8 1217.0,1470.6 1219.9,1470.4 1222.9,1470.2 1225.8,1470.0 1228.7,1469.8 1231.6,1469.7 1234.5,1469.5 1237.3,1469.3 1240.2,1469.1 1243.0,1468.7 1245.8,1468.3 1248.6,1467.7 1251.4,1466.9 1254.2,1466.0 1256.9,1464.9 1259.6,1463.7 1262.4,1462.4 1265.1,1460.9 1267.8,1459.5 1270.5,1457.9 1273.3,1456.3 1276.0,1454.8 1278.7,1453.2 1281.4,1451.6 1284.2,1450.1 1286.9,1448.6 1289.7,1447.2 1292.5,1445.9 1295.3,1444.7 1298.2,1443.6 1301.0,1442.5 1303.8,1441.5 1306.7,1440.6 1309.5,1439.6 1312.3,1438.7 1315.1,1437.7 1317.9,1436.7 1320.7,1435.7 1323.5,1434.6 1326.2,1433.5 1328.9,1432.2 1331.5,1430.9 1334.1,1429.4 1336.6,1427.9 1339.1,1426.2 1341.5,1424.4 1343.9,1422.6 1346.2,1420.6 1348.4,1418.6 1350.6,1416.5 1352.7,1414.3 1354.7,1412.0 1356.5,1409.7 1358.3,1407.4 1360.1,1405.0 1361.7,1402.5 1363.2,1400.0 1364.6,1397.5 1365.9,1394.9 1367.2,1392.3 1368.4,1389.6 1369.6,1387.0 1370.7,1384.2 1371.8,1381.5 1372.8,1378.7 1373.8,1376.0 1374.8,1373.1 1375.8,1370.3 1376.8,1367.5 1377.7,1364.6 1378.7,1361.7 1379.8,1358.8 1380.8,1355.9 1381.9,1353.0 1383.0,1350.1 1384.1,1347.2 1385.4,1344.3 1386.6,1341.4 1388.0,1338.5 1389.4,1335.6 1390.9,1332.7 1392.6,1329.9 1394.3,1327.2 1396.1,1324.7 1398.0,1322.4 1400.1,1320.4 1402.3,1318.8 1404.6,1317.6 1407.0,1316.8 1409.3,1316.5 1411.6,1316.8 1413.9,1317.6 1416.1,1318.9 1418.3,1320.6 1420.4,1322.6 1422.5,1324.9 1424.5,1327.4 1426.4,1330.2 1428.2,1333.0 1429.9,1335.9 1431.6,1338.8 1433.1,1341.7 1434.6,1344.6 1435.9,1347.3 1437.2,1350.1 1438.4,1352.8 1439.6,1355.4 1440.8,1358.0 1442.0,1360.7 1443.2,1363.3 1444.4,1365.9 1445.6,1368.5 1446.8,1371.1 1448.1,1373.7 1449.5,1376.2 1450.9,1378.8 1452.4,1381.3 1454.0,1383.8 1455.6,1386.2 1457.4,1388.7 1459.2,1391.1 1461.2,1393.4 1463.3,1395.8 1465.5,1398.0 1467.8,1400.3 1470.3,1402.4 1472.9,1404.4 1475.6,1406.3 1478.3,1407.9 1481.1,1409.3 1483.9,1410.3 1486.7,1411.1 1489.5,1411.4 1492.3,1411.3 1495.1,1410.7 1497.7,1409.7 1500.3,1408.4 1502.8,1406.8 1505.1,1405.0 1507.3,1403.1 1509.4,1401.0 1511.3,1398.8 1513.2,1396.6 1514.9,1394.2 1516.6,1391.7 1518.1,1389.1 1519.6,1386.5 1520.9,1383.8 1522.3,1381.0 1523.5,1378.2 1524.7,1375.4 1525.9,1372.5 1527.0,1369.7 1528.1,1366.8 1529.2,1363.9 1530.2,1361.0 1531.3,1358.1 1532.3,1355.2 1533.4,1352.4 1534.4,1349.5 1535.5,1346.7 1536.6,1343.9 1537.8,1341.2 1539.0,1338.4 1540.2,1335.7 1541.5,1333.0 1542.8,1330.4 1544.2,1327.8 1545.7,1325.2 1547.2,1322.7 1548.9,1320.2 1550.6,1317.7 1552.4,1315.3 1554.3,1313.0 1556.4,1310.7 1558.5,1308.5 1560.8,1306.6 1563.2,1305.0 1565.7,1304.0 1568.4,1303.6 1571.2,1303.9 1574.2,1304.8 1577.2,1306.0 1580.2,1307.5 1583.2,1309.1 1586.2,1310.6 1589.2,1311.9 1592.0,1312.8 1594.7,1313.2 1597.3,1312.9 1599.6,1312.0 1601.8,1310.5 1603.9,1308.5 1605.7,1306.2 1607.4,1303.5 1609.0,1300.6 1610.3,1297.5 1611.5,1294.4 1612.6,1291.3 1613.5,1288.2 1614.2,1285.1 1614.9,1282.1 1615.4,1279.2 1615.9,1276.2 1616.2,1273.3 1616.6,1270.4 1616.9,1267.5 1617.2,1264.6 1617.5,1261.7 1617.8,1258.8 1618.1,1255.9 1618.4,1253.0 1618.8,1250.0 1619.1,1247.1 1619.5,1244.2 1619.9,1241.2 1620.3,1238.3 1620.7,1235.3 1621.1,1232.4 1621.5,1229.4 1621.9,1226.4 1622.3,1223.5 1622.7,1220.5 1623.2,1217.5 1623.6,1214.5 1624.0,1211.5 1624.4,1208.6 1624.8,1205.6 1625.3,1202.6 1625.7,1199.6 1626.1,1196.6 1626.5,1193.6 1626.9,1190.7 1627.2,1187.7 1627.6,1184.7 1628.0,1181.7 1628.4,1178.7 1628.7,1175.7 1629.1,1172.7 1629.4,1169.8 1629.8,1166.8 1630.1,1163.8 1630.5,1160.8 1630.8,1157.8 1631.1,1154.8 1631.4,1151.8 1631.8,1148.9 1632.1,1145.9 1632.4,1142.9 1632.7,1139.9 1633.0,1136.9 1633.3,1133.9 1633.6,1130.9 1633.8,1127.9 1634.1,1125.0 1634.4,1122.0 1634.7,1119.0 1634.9,1116.0 1635.2,1113.0 1635.5,1110.0 1635.7,1107.0 1636.0,1104.0 1636.2,1101.0 1636.4,1098.1 1636.7,1095.1 1636.9,1092.1 1637.2,1089.1 1637.4,1086.1 1637.6,1083.1 1637.8,1080.1 1638.1,1077.1 1638.3,1074.1 1638.5,1071.1 1638.7,1068.2 1638.9,1065.2 1639.1,1062.2 1639.3,1059.2 1639.5,1056.2 1639.8,1053.2 1639.9,1050.2 1640.1,1047.2 1640.3,1044.2 1640.5,1041.2 1640.7,1038.3 1640.9,1035.3 1641.1,1032.3 1641.3,1029.3 1641.5,1026.3 1641.7,1023.3 1641.8,1020.3 1642.0,1017.3 1642.2,1014.3 1642.4,1011.3 1642.6,1008.3 1642.7,1005.3 1642.9,1002.3 1643.1,999.4 1643.3,996.4 1643.4,993.4 1643.6,990.4 1643.8,987.4 1643.9,984.4 1644.1,981.4 1644.3,978.4 1644.4,975.4 1644.6,972.4 1644.8,969.4 1644.9,966.4 1645.1,963.4 1645.2,960.4 1645.4,957.5 1645.6,954.5 1645.7,951.5 1645.9,948.5 1646.0,945.5 1646.2,942.5 1646.3,939.5 1646.5,936.5 1646.7,933.5 1646.8,930.5 1647.0,927.5 1647.1,924.5 1647.3,921.5 1647.4,918.5 1647.6,915.5 1647.7,912.5 1647.8,909.5 1648.0,906.6 1648.1,903.6 1648.3,900.6 1648.4,897.6 1648.6,894.6 1648.7,891.6 1648.9,888.6 1649.0,885.6 1649.1,882.6 1649.3,879.6 1649.4,876.6 1649.6,873.6 1649.7,870.6 1649.8,867.6 1650.0,864.6 1650.1,861.6 1650.3,858.6 1650.4,855.6 1650.5,852.6 1650.7,849.6 1650.8,846.6 1650.9,843.6 1651.1,840.6 1651.2,837.7 1651.3,834.7 1651.5,831.7 1651.6,828.7 1651.7,825.7 1651.9,822.7 1652.0,819.7 1652.1,816.7 1652.3,813.7 1652.4,810.7 1652.5,807.7 1652.7,804.7 1652.8,801.7 1652.9,798.7 1653.1,795.7 1653.2,792.7 1653.3,789.7 1653.5,786.7 1653.6,783.7 1653.7,780.7 1653.8,777.7 1654.0,774.7 1654.1,771.7 1654.2,768.7 1654.4,765.7 1654.5,762.7 1654.6,759.7 1654.8,756.7 1654.9,753.7 1655.0,750.8 1655.1,747.8 1655.3,744.8 1655.4,741.8 1655.5,738.8 1655.7,735.8 1655.8,732.8 1655.9,729.8 1656.1,726.8 1656.2,723.8 1656.3,720.8 1656.4,717.8 1656.6,714.8 1656.7,711.8 1656.8,708.8 1657.0,705.8 1657.1,702.8 1657.2,699.8 1657.4,696.8 1657.5,693.8 1657.6,690.8 1657.8,687.8 1657.9,684.8 1658.0,681.8 1658.2,678.8 1658.3,675.8 1658.4,672.8 1658.6,669.8 1658.7,666.8 1658.9,663.8 1659.0,660.8 1659.1,657.8 1659.3,654.8 1659.4,651.8 1659.5,648.9 1659.7,645.9 1659.8,642.9 1660.0,639.9 1660.1,636.9 1660.3,633.9 1660.4,630.9 1660.5,627.9 1660.7,624.9 1660.8,621.9 1661.0,618.9 1661.1,615.9 1661.3,612.9 1661.4,609.9 1661.6,606.9 1661.7,603.9 1661.9,600.9 1662.0,597.9 1662.2,594.9 1662.3,591.9 1662.5,588.9 1662.6,585.9 1662.8,582.9 1662.9,579.9 1663.1,576.9 1663.2,573.9 1663.4,570.9 1663.5,567.9 1663.7,564.9 1663.9,562.0 1664.0,559.0 1664.2,556.0 1664.4,553.0 1664.5,550.0 1664.7,547.0 1664.8,544.0 1665.0,541.0 1665.2,538.0 1665.3,535.0 1665.5,532.0 1665.7,529.0 1665.9,526.0 1666.0,523.0 1666.2,520.0 1666.4,517.0 1666.6,514.0 1666.7,511.0 1666.9,508.0 1667.1,505.0 1667.3,502.0 1667.4,499.0 1667.6,496.1 1667.8,493.1 1668.0,490.1 1668.2,487.1 1668.4,484.1 1668.6,481.1 1668.8,478.1 1668.9,475.1 1669.1,472.1 1669.3,469.1 1669.5,466.1 1669.7,463.1 1669.9,460.1 1670.1,457.1 1670.3,454.1 1670.5,451.1 1670.7,448.1 1670.9,445.2 1671.1,442.2 1671.3,439.2 1671.5,436.2 1671.7,433.2 1671.9,430.2 1672.1,427.2 1672.3,424.2 1672.5,421.2 1672.7,418.2 1672.9,415.2 1673.1,412.2 1673.3,409.2 1673.5,406.3 1673.7,403.3 1673.9,400.3 1674.1,397.3 1674.3,394.3 1674.5,391.3 1674.7,388.3 1674.9,385.3 1675.1,382.3 1675.3,379.4 1675.5,376.4 1675.7,373.4 1675.8,370.4 1676.0,367.4 1676.2,364.4 1676.4,361.4 1676.6,358.5 1676.8,355.5 1676.9,352.5 1677.1,349.5 1677.3,346.5 1677.5,343.5 1677.7,340.6 1677.9,337.6 1678.1,334.6 1678.4,331.6 1678.6,328.6 1678.9,325.7 1679.2,322.7 1679.6,319.7 1679.9,316.7 1680.3,313.7 1680.8,310.8 1681.3,307.8 1681.8,304.8 1682.3,301.8 1683.0,298.9 1683.6,295.8 1684.3,292.6 1685.0,289.2 1685.8,285.5 1686.5,282.0 1687.3,279.0 1688.1,276.9 1688.9,276.1 1689.7,276.9 1690.5,279.0 1691.2,282.0 1692.0,285.6 1692.7,289.2 1693.4,292.7 1694.0,295.8 1694.6,298.8 1695.2,301.8 1695.7,304.7 1696.2,307.7 1696.7,310.6 1697.2,313.6 1697.6,316.5 1698.1,319.5 1698.5,322.4 1698.9,325.4 1699.4,328.4 1699.7,331.3 1700.1,334.3 1700.5,337.3 1700.9,340.3 1701.2,343.2 1701.5,346.2 1701.8,349.2 1702.2,352.1 1702.5,355.1 1702.7,358.1 1703.0,361.1 1703.3,364.1 1703.6,367.0 1703.8,370.0 1704.1,373.0 1704.3,376.0 1704.5,379.0 1704.7,382.0 1704.9,384.9 1705.1,387.9 1705.3,390.9 1705.5,393.9 1705.7,396.9 1705.9,399.9 1706.1,402.9 1706.2,405.9 1706.4,408.9 1706.6,411.8 1706.7,414.8 1706.9,417.8 1707.0,420.8 1707.1,423.8 1707.3,426.8 1707.4,429.8 1707.5,432.8 1707.7,435.8 1707.8,438.8 1707.9,441.8 1708.1,444.8 1708.2,447.8 1708.3,450.8 1708.4,453.8 1708.6,456.8 1708.7,459.8 1708.8,462.8 1708.9,465.8 1709.0,468.8 1709.2,471.8 1709.3,474.8 1709.4,477.8 1709.6,480.8 1709.7,483.8 1709.8,486.8 1710.0,489.8 1710.1,492.8 1710.3,495.8 1710.4,498.8 1710.6,501.8 1710.7,504.8 1710.8,507.8 1711.0,510.7 1711.2,513.7 1711.3,516.7 1711.5,519.7 1711.6,522.7 1711.8,525.7 1712.0,528.7 1712.1,531.7 1712.3,534.7 1712.4,537.7 1712.6,540.7 1712.8,543.7 1713.0,546.7 1713.1,549.7 1713.3,552.7 1713.5,555.7 1713.6,558.7 1713.8,561.7 1714.0,564.7 1714.2,567.7 1714.3,570.7 1714.5,573.7 1714.7,576.7 1714.9,579.7 1715.1,582.7 1715.2,585.7 1715.4,588.7 1715.6,591.7 1715.8,594.7 1716.0,597.7 1716.1,600.7 1716.3,603.7 1716.5,606.7 1716.7,609.7 1716.9,612.7 1717.1,615.7 1717.2,618.7 1717.4,621.7 1717.6,624.7 1717.8,627.7 1718.0,630.7 1718.1,633.7 1718.3,636.7 1718.5,639.7 1718.7,642.7 1718.8,645.6 1719.0,648.6 1719.2,651.6 1719.4,654.6 1719.6,657.6 1719.7,660.6 1719.9,663.6 1720.1,666.6 1720.2,669.6 1720.4,672.6 1720.6,675.6 1720.7,678.6 1720.9,681.6 1721.1,684.6 1721.2,687.6 1721.4,690.6 1721.6,693.6 1721.7,696.6 1721.9,699.6 1722.0,702.6 1722.2,705.6 1722.4,708.6 1722.5,711.6 1722.7,714.5 1722.8,717.5 1723.0,720.5 1723.1,723.5 1723.3,726.5 1723.4,729.5 1723.6,732.5 1723.7,735.5 1723.9,738.5 1724.0,741.5 1724.2,744.5 1724.3,747.5 1724.4,750.5 1724.6,753.5 1724.7,756.5 1724.9,759.5 1725.0,762.5 1725.2,765.5 1725.3,768.4 1725.4,771.4 1725.6,774.4 1725.7,777.4 1725.9,780.4 1726.0,783.4 1726.1,786.4 1726.3,789.4 1726.4,792.4 1726.5,795.4 1726.7,798.4 1726.8,801.4 1727.0,804.4 1727.1,807.4 1727.2,810.4 1727.4,813.3 1727.5,816.3 1727.6,819.3 1727.8,822.3 1727.9,825.3 1728.0,828.3 1728.2,831.3 1728.3,834.3 1728.4,837.3 1728.6,840.3 1728.7,843.3 1728.8,846.3 1729.0,849.3 1729.1,852.3 1729.2,855.2 1729.4,858.2 1729.5,861.2 1729.6,864.2 1729.8,867.2 1729.9,870.2 1730.0,873.2 1730.2,876.2 1730.3,879.2 1730.5,882.2 1730.6,885.2 1730.7,888.2 1730.9,891.2 1731.0,894.1 1731.1,897.1 1731.3,900.1 1731.4,903.1 1731.6,906.1 1731.7,909.1 1731.8,912.1 1732.0,915.1 1732.1,918.1 1732.3,921.1 1732.4,924.1 1732.5,927.1 1732.7,930.1 1732.8,933.0 1733.0,936.0 1733.1,939.0 1733.3,942.0 1733.4,945.0 1733.6,948.0 1733.7,951.0 1733.9,954.0 1734.0,957.0 1734.2,960.0 1734.3,963.0 1734.5,966.0 1734.6,969.0 1734.8,971.9 1734.9,974.9 1735.1,977.9 1735.3,980.9 1735.4,983.9 1735.6,986.9 1735.7,989.9 1735.9,992.9 1736.1,995.9 1736.2,998.9 1736.4,1001.9 1736.6,1004.9 1736.7,1007.9 1736.9,1010.8 1737.1,1013.8 1737.2,1016.8 1737.4,1019.8 1737.6,1022.8 1737.8,1025.8 1737.9,1028.8 1738.1,1031.8 1738.3,1034.8 1738.5,1037.8 1738.7,1040.8 1738.8,1043.8 1739.0,1046.8 1739.2,1049.8 1739.4,1052.7 1739.6,1055.7 1739.8,1058.7 1740.0,1061.7 1740.2,1064.7 1740.4,1067.7 1740.6,1070.7 1740.8,1073.7 1741.0,1076.7 1741.2,1079.7 1741.4,1082.7 1741.6,1085.7 1741.8,1088.7 1742.0,1091.7 1742.2,1094.6 1742.4,1097.6 1742.6,1100.6 1742.9,1103.6 1743.1,1106.6 1743.3,1109.6 1743.5,1112.6 1743.8,1115.6 1744.0,1118.6 1744.2,1121.6 1744.4,1124.6 1744.7,1127.6 1744.9,1130.6 1745.2,1133.6 1745.4,1136.6 1745.6,1139.6 1745.9,1142.5 1746.1,1145.5 1746.4,1148.5 1746.6,1151.5 1746.9,1154.5 1747.1,1157.5 1747.4,1160.5 1747.7,1163.5 1747.9,1166.5 1748.2,1169.5 1748.5,1172.5 1748.7,1175.5 1749.0,1178.5 1749.3,1181.5 1749.6,1184.5 1749.8,1187.5 1750.1,1190.5 1750.4,1193.5 1750.7,1196.5 1751.0,1199.4 1751.3,1202.4 1751.6,1205.4 1751.9,1208.4 1752.2,1211.4 1752.5,1214.4 1752.8,1217.4 1753.1,1220.4 1753.4,1223.4 1753.7,1226.4 1754.0,1229.4 1754.3,1232.4 1754.7,1235.4 1755.0,1238.4 1755.3,1241.4 1755.6,1244.4 1756.0,1247.4 1756.3,1250.4 1756.6,1253.3 1757.0,1256.3 1757.3,1259.3 1757.6,1262.3 1758.0,1265.3 1758.3,1268.3 1758.6,1271.3 1759.0,1274.3 1759.3,1277.3 1759.6,1280.2 1760.0,1283.2 1760.3,1286.2 1760.7,1289.2 1761.0,1292.2 1761.4,1295.1 1761.7,1298.1 1762.1,1301.1 1762.4,1304.1 1762.7,1307.0 1763.1,1310.0 1763.4,1313.0 1763.8,1315.9 1764.1,1318.9 1764.5,1321.9 1764.8,1324.8 1765.2,1327.8 1765.5,1330.8 1765.9,1333.7 1766.2,1336.7 1766.5,1339.6 1766.9,1342.6 1767.3,1345.5 1767.6,1348.5 1768.0,1351.4 1768.4,1354.4 1768.8,1357.3 1769.2,1360.2 1769.6,1363.2 1770.0,1366.1 1770.5,1369.0 1771.0,1372.0 1771.5,1374.9 1772.0,1377.8 1772.5,1380.7 1773.1,1383.7 1773.7,1386.6 1774.3,1389.5 1775.0,1392.4 1775.7,1395.3 1776.4,1398.2 1777.2,1401.1 1778.0,1404.0 1778.8,1406.9 1779.7,1409.8 1780.6,1412.7 1781.6,1415.6 1782.6,1418.4 1783.7,1421.3 1784.8,1424.1 1785.9,1427.0 1787.1,1429.8 1788.3,1432.6 1789.6,1435.3 1790.9,1438.1 1792.3,1440.8 1793.7,1443.5 1795.2,1446.1 1796.7,1448.8 1798.2,1451.4 1799.8,1453.9 1801.5,1456.4 1803.2,1458.9 1804.9,1461.3 1806.8,1463.7 1808.6,1466.1 1810.5,1468.4 1812.5,1470.6 1814.5,1472.8 1816.6,1474.9 1818.7,1477.0 1820.9,1479.0 1823.1,1481.0 1825.4,1482.9 1827.8,1484.7 1830.2,1486.5 1832.6,1488.2 1835.1,1489.8 1837.7,1491.4 1840.3,1492.9 1842.9,1494.3 1845.6,1495.7 1848.3,1497.0 1851.1,1498.3 1853.9,1499.5 1856.7,1500.6 1859.6,1501.7 1862.4,1502.7 1865.3,1503.7 1868.2,1504.6 1871.2,1505.5 1874.1,1506.3 1877.0,1507.0 1880.0,1507.7 1882.9,1508.4 1885.9,1508.9 1888.9,1509.5 1891.8,1510.0 1894.8,1510.4 1897.8,1510.9 1900.7,1511.2 1903.7,1511.5 1906.7,1511.8 1909.6,1512.1 1912.6,1512.3 1915.6,1512.5 1918.5,1512.7 1921.5,1512.8 1924.5,1512.9 1927.5,1513.0 1930.5,1513.1 1933.4,1513.1 1936.4,1513.1 1939.4,1513.1 1942.4,1513.1 1945.4,1513.1 1948.3,1513.1 1951.3,1513.0 1954.3,1513.0 1957.3,1513.0 1960.3,1512.9 1963.3,1512.9 1966.3,1512.8 1969.2,1512.8 1972.2,1512.7 1975.2,1512.7 1978.2,1512.7 1981.2,1512.7 1984.2,1512.7 1987.2,1512.7 1990.2,1512.7 1993.2,1512.7 1996.2,1512.7 1999.2,1512.8 2002.2,1512.8 2005.2,1512.9 2008.2,1513.0 2011.2,1513.1 2014.2,1513.1 2017.2,1513.2 2020.2,1513.3 2023.2,1513.4 2026.2,1513.6 2029.2,1513.7 2032.2,1513.8 2035.2,1514.0 2038.2,1514.1 2041.2,1514.2 2044.2,1514.4 2047.2,1514.6 2050.2,1514.7 2053.2,1514.9 2056.2,1515.1 2059.2,1515.3 2062.2,1515.4 2065.2,1515.6 2068.2,1515.8 2071.2,1516.0 2074.2,1516.2 2077.2,1516.4 2080.2,1516.6 2083.2,1516.8 2086.2,1517.0 2089.2,1517.2 2092.2,1517.4 2095.2,1517.6 2098.2,1517.8 2101.2,1518.0 2104.3,1518.2 2107.3,1518.4 2110.3,1518.6 2113.3,1518.8 2116.3,1518.9 2119.3,1519.1 2122.3,1519.3 2125.3,1519.4 2128.3,1519.6 2131.3,1519.7 2134.3,1519.9 2137.3,1520.0 2140.3,1520.1 2143.3,1520.3 2146.3,1520.4 2149.2,1520.5 2152.2,1520.6 2155.2,1520.6 2158.2,1520.7 2161.2,1520.8 2164.2,1520.8 2167.2,1520.8 2170.2,1520.9 2173.2,1520.9 2176.2,1520.9 2179.2,1520.8 2182.2,1520.8 2185.1,1520.8 2188.1,1520.7 2191.1,1520.6 2194.1,1520.5 2197.1,1520.4 2200.1,1520.3 2203.0,1520.1 2206.0,1519.9 2209.0,1519.8 2212.0,1519.6 2214.9,1519.3 2217.9,1519.1 2220.9,1518.8 2223.9,1518.5 2226.8,1518.2 2229.8,1517.9 2232.8,1517.5 2235.7,1517.2 2238.7,1516.8 2241.7,1516.3 2244.6,1515.9 2247.6,1515.4 2250.5,1515.0 2253.5,1514.5 2256.5,1513.9 2259.4,1513.4 2262.4,1512.9 2265.3,1512.3 2268.3,1511.7 2271.2,1511.1 2274.2,1510.5 2277.1,1509.9 2280.0,1509.2 2283.0,1508.6 2285.9,1507.9 2288.8,1507.2 2291.8,1506.5 2294.7,1505.9 2297.6,1505.2 2300.6,1504.4 2303.5,1503.7 2306.4,1503.0 2309.3,1502.3 2312.3,1501.5 2315.2,1500.8 2318.1,1500.1" stroke="#0000ff" stroke-width="8.2"/>
<path d="M116.8,1274.0 117.2,1271.1 117.8,1268.2 118.4,1265.3 119.0,1262.4 119.8,1259.6 120.5,1256.7 121.4,1253.8 122.2,1250.9 123.1,1248.1 124.1,1245.2 125.0,1242.3 126.1,1239.5 127.1,1236.6 128.2,1233.8 129.3,1230.9 130.4,1228.1 131.5,1225.2 132.6,1222.4 133.8,1219.6 134.9,1216.8 136.1,1214.0 137.2,1211.2 138.4,1208.4 139.5,1205.6 140.7,1202.8 141.8,1200.1 142.9,1197.3 144.0,1194.6 145.2,1191.9 146.3,1189.1 147.4,1186.4 148.6,1183.7 149.8,1181.1 151.1,1178.4 152.3,1175.8 153.7,1173.1 155.0,1170.5 156.5,1167.9 158.0,1165.3 159.6,1162.7 161.2,1160.2 163.0,1157.6 164.8,1155.1 166.6,1152.7 168.5,1150.2 170.5,1147.9 172.6,1145.5 174.7,1143.3 176.8,1141.1 179.0,1139.0 181.2,1136.9 183.5,1135.0 185.8,1133.1 188.2,1131.4 190.6,1129.7 193.0,1128.1 195.4,1126.6 197.8,1125.1 200.3,1123.6 202.8,1122.2 205.3,1120.7 207.8,1119.2 210.3,1117.6 212.7,1116.0 215.2,1114.2 217.6,1112.3 220.0,1110.3 222.4,1108.2 224.7,1106.0 226.9,1103.8 229.1,1101.6 231.2,1099.4 233.3,1097.2 235.3,1094.9 237.3,1092.7 239.2,1090.5 241.2,1088.2 243.1,1086.0 244.9,1083.8 246.8,1081.6 248.7,1079.4 250.6,1077.2 252.6,1075.0 254.5,1072.8 256.5,1070.7 258.6,1068.6 260.6,1066.5 262.8,1064.4 265.0,1062.3 267.2,1060.3 269.5,1058.3 271.8,1056.3 274.1,1054.3 276.5,1052.4 278.9,1050.5 281.3,1048.7 283.7,1046.9 286.1,1045.1 288.6,1043.4 291.0,1041.7 293.4,1040.1 295.9,1038.5 298.3,1036.9 300.8,1035.3 303.2,1033.6 305.7,1031.9 308.2,1030.1 310.7,1028.2 313.2,1026.2 315.8,1024.2 318.4,1022.3 321.0,1020.5 323.7,1018.9 326.4,1017.6 329.2,1016.6 332.0,1015.9 334.7,1015.6 337.5,1015.7 340.1,1016.1 342.6,1017.0 345.0,1018.2 347.2,1019.9 349.3,1021.9 351.2,1024.1 353.0,1026.6 354.7,1029.4 356.2,1032.2 357.6,1035.1 358.9,1038.1 360.2,1041.1 361.3,1044.1 362.4,1047.0 363.4,1049.9 364.3,1052.7 365.2,1055.6 366.0,1058.4 366.9,1061.3 367.7,1064.1 368.4,1066.9 369.2,1069.7 370.0,1072.6 370.8,1075.4 371.5,1078.3 372.3,1081.1 373.1,1084.0 373.9,1086.8 374.6,1089.7 375.4,1092.6 376.2,1095.4 377.0,1098.3 377.7,1101.2 378.5,1104.1 379.3,1107.0 380.0,1109.9 380.8,1112.8 381.5,1115.7 382.3,1118.6 383.0,1121.5 383.8,1124.4 384.5,1127.4 385.2,1130.3 386.0,1133.2 386.7,1136.1 387.4,1139.0 388.1,1142.0 388.8,1144.9 389.5,1147.8 390.2,1150.7 390.9,1153.7 391.6,1156.6 392.3,1159.5 393.0,1162.4 393.6,1165.4 394.3,1168.3 395.0,1171.2 395.7,1174.2 396.3,1177.1 397.0,1180.0 397.7,1183.0 398.3,1185.9 399.0,1188.8 399.7,1191.8 400.3,1194.7 401.0,1197.6 401.6,1200.6 402.3,1203.5 403.0,1206.4 403.6,1209.3 404.3,1212.3 404.9,1215.2 405.6,1218.1 406.3,1221.1 406.9,1224.0 407.6,1226.9 408.3,1229.8 408.9,1232.7 409.6,1235.7 410.3,1238.6 411.0,1241.5 411.7,1244.4 412.3,1247.3 413.0,1250.2 413.7,1253.1 414.4,1256.0 415.1,1258.9 415.8,1261.8 416.6,1264.7 417.3,1267.6 418.1,1270.5 418.8,1273.4 419.6,1276.2 420.4,1279.1 421.2,1282.0 422.1,1284.8 422.9,1287.7 423.8,1290.5 424.7,1293.4 425.6,1296.2 426.6,1299.0 427.6,1301.8 428.6,1304.6 429.6,1307.4 430.7,1310.2 431.8,1313.0 433.0,1315.7 434.2,1318.5 435.4,1321.2 436.7,1324.0 438.0,1326.7 439.3,1329.4 440.7,1332.1 442.2,1334.8 443.7,1337.4 445.2,1340.1 446.8,1342.7 448.4,1345.4 450.1,1348.0 451.9,1350.5 453.7,1353.1 455.5,1355.6 457.5,1358.0 459.4,1360.4 461.5,1362.6 463.6,1364.8 465.8,1366.9 468.0,1368.8 470.3,1370.6 472.7,1372.3 475.1,1373.8 477.6,1375.2 480.2,1376.4 482.8,1377.5 485.5,1378.4 488.2,1379.2 491.0,1379.8 493.9,1380.3 496.7,1380.7 499.6,1381.0 502.6,1381.2 505.5,1381.2 508.5,1381.2 511.5,1381.0 514.5,1380.8 517.6,1380.5 520.6,1380.1 523.7,1379.6 526.7,1379.0 529.7,1378.4 532.8,1377.8 535.8,1377.1 538.8,1376.3 541.8,1375.5 544.8,1374.7 547.7,1373.9 550.7,1373.0 553.6,1372.1 556.5,1371.2 559.4,1370.3 562.3,1369.4 565.2,1368.4 568.1,1367.5 570.9,1366.5 573.8,1365.6 576.7,1364.6 579.5,1363.7 582.3,1362.8 585.2,1361.9 588.0,1361.0 590.8,1360.1 593.7,1359.2 596.5,1358.4 599.3,1357.6 602.2,1356.8 605.0,1356.1 607.8,1355.4 610.7,1354.7 613.5,1354.1 616.4,1353.5 619.2,1352.9 622.1,1352.3 625.0,1351.8 627.8,1351.3 630.7,1350.8 633.6,1350.3 636.5,1349.8 639.5,1349.4 642.4,1349.0 645.4,1348.5 648.3,1348.1 651.3,1347.7 654.3,1347.3 657.3,1346.9 660.3,1346.5 663.4,1346.2 666.4,1345.8 669.5,1345.5 672.5,1345.1 675.6,1344.8 678.6,1344.5 681.7,1344.2 684.8,1344.0 687.9,1343.7 690.9,1343.5 694.0,1343.3 697.1,1343.1 700.2,1342.9 703.2,1342.8 706.3,1342.6 709.4,1342.5 712.4,1342.5 715.5,1342.4 718.5,1342.3 721.5,1342.3 724.5,1342.3 727.6,1342.4 730.5,1342.4 733.5,1342.5 736.5,1342.6 739.4,1342.8 742.4,1343.0 745.3,1343.2 748.2,1343.4 751.1,1343.7 754.0,1344.1 756.8,1344.5 759.7,1345.0 762.5,1345.5 765.4,1346.1 768.2,1346.8 771.0,1347.5 773.8,1348.3 776.5,1349.2 779.3,1350.2 782.1,1351.3 784.8,1352.5 787.6,1353.7 790.3,1355.0 793.0,1356.4 795.7,1357.8 798.4,1359.2 801.1,1360.7 803.8,1362.1 806.4,1363.6 809.1,1365.0 811.7,1366.5 814.4,1367.9 817.0,1369.4 819.7,1370.8 822.3,1372.3 824.9,1373.7 827.5,1375.2 830.1,1376.7 832.7,1378.1 835.3,1379.6 837.9,1381.1 840.5,1382.6 843.1,1384.1 845.7,1385.7 848.2,1387.2 850.8,1388.8 853.4,1390.3 855.9,1391.9 858.5,1393.5 861.1,1395.1 863.6,1396.7 866.2,1398.4 868.7,1400.0 871.3,1401.6 873.8,1403.3 876.4,1404.9 878.9,1406.6 881.5,1408.3 884.0,1409.9 886.6,1411.6 889.1,1413.2 891.7,1414.9 894.2,1416.5 896.8,1418.2 899.3,1419.8 901.9,1421.4 904.5,1423.1 907.0,1424.7 909.6,1426.3 912.2,1427.9 914.7,1429.5 917.3,1431.0 919.9,1432.6 922.5,1434.1 925.1,1435.6 927.7,1437.1 930.3,1438.6 932.9,1440.1 935.5,1441.5 938.1,1442.9 940.7,1444.3 943.4,1445.7 946.0,1447.0 948.6,1448.3 951.3,1449.6 953.9,1450.8 956.6,1452.0 959.3,1453.2 962.0,1454.4 964.7,1455.6 967.4,1456.7 970.1,1457.8 972.8,1458.9 975.5,1460.0 978.2,1461.1 981.0,1462.1 983.7,1463.2 986.4,1464.2 989.2,1465.2 991.9,1466.3 994.7,1467.3 997.5,1468.3 1000.3,1469.4 1003.0,1470.4 1005.8,1471.4 1008.6,1472.5 1011.4,1473.5 1014.2,1474.5 1017.0,1475.5 1019.9,1476.5 1022.7,1477.5 1025.5,1478.5 1028.3,1479.5 1031.2,1480.4 1034.0,1481.4 1036.9,1482.3 1039.7,1483.2 1042.6,1484.1 1045.5,1485.0 1048.3,1485.9 1051.2,1486.8 1054.1,1487.7 1056.9,1488.5 1059.8,1489.4 1062.7,1490.2 1065.6,1491.0 1068.5,1491.8 1071.4,1492.7 1074.3,1493.5 1077.2,1494.3 1080.1,1495.1 1083.0,1495.9 1086.0,1496.7 1088.9,1497.5 1091.8,1498.2 1094.7,1499.0 1097.7,1499.8 1100.6,1500.6 1103.5,1501.4 1106.5,1502.1 1109.4,1502.9 1112.4,1503.6 1115.3,1504.3 1118.2,1505.1 1121.2,1505.8 1124.2,1506.5 1127.1,1507.1 1130.1,1507.8 1133.0,1508.5 1136.0,1509.1 1138.9,1509.7 1141.9,1510.3 1144.9,1510.8 1147.8,1511.4 1150.8,1511.9 1153.8,1512.4 1156.7,1512.9 1159.7,1513.3 1162.7,1513.7 1165.7,1514.1 1168.6,1514.5 1171.6,1514.8 1174.6,1515.1 1177.6,1515.4 1180.5,1515.6 1183.5,1515.8 1186.5,1515.9 1189.5,1516.0 1192.4,1516.1 1195.4,1516.2 1198.4,1516.2 1201.4,1516.1 1204.3,1516.0 1207.3,1515.9 1210.3,1515.7 1213.3,1515.6 1216.2,1515.3 1219.2,1515.1 1222.2,1514.8 1225.1,1514.5 1228.1,1514.2 1231.1,1513.9 1234.1,1513.6 1237.0,1513.2 1240.0,1512.9 1243.0,1512.5 1246.0,1512.1 1248.9,1511.8 1251.9,1511.4 1254.9,1511.1 1257.8,1510.7 1260.8,1510.4 1263.8,1510.0 1266.7,1509.7 1269.7,1509.4 1272.7,1509.2 1275.7,1508.9 1278.6,1508.7 1281.6,1508.5 1284.6,1508.3 1287.5,1508.2 1290.5,1508.1 1293.5,1508.0 1296.4,1507.8 1299.4,1507.7 1302.4,1507.5 1305.4,1507.2 1308.3,1506.8 1311.3,1506.4 1314.3,1505.9 1317.2,1505.2 1320.2,1504.5 1323.2,1503.8 1326.1,1502.9 1329.1,1502.1 1332.1,1501.2 1335.1,1500.4 1338.0,1499.5 1341.0,1498.7 1344.0,1498.0 1346.9,1497.2 1349.9,1496.5 1352.8,1495.8 1355.8,1495.1 1358.7,1494.4 1361.6,1493.6 1364.5,1492.8 1367.4,1492.0 1370.2,1491.2 1373.0,1490.3 1375.8,1489.3 1378.6,1488.3 1381.3,1487.1 1384.0,1485.9 1386.6,1484.6 1389.2,1483.2 1391.8,1481.7 1394.3,1480.1 1396.8,1478.4 1399.2,1476.6 1401.6,1474.8 1403.9,1472.9 1406.1,1470.9 1408.3,1468.8 1410.4,1466.7 1412.5,1464.5 1414.5,1462.2 1416.4,1459.9 1418.2,1457.6 1420.0,1455.2 1421.7,1452.7 1423.3,1450.3 1424.8,1447.7 1426.3,1445.2 1427.7,1442.6 1429.0,1439.9 1430.3,1437.3 1431.5,1434.6 1432.7,1431.8 1433.8,1429.1 1434.9,1426.3 1435.9,1423.5 1436.9,1420.7 1437.9,1417.8 1438.9,1415.0 1439.8,1412.1 1440.7,1409.2 1441.5,1406.3 1442.4,1403.4 1443.2,1400.5 1444.0,1397.6 1444.9,1394.7 1445.7,1391.7 1446.5,1388.8 1447.3,1385.9 1448.2,1383.0 1449.0,1380.0 1449.9,1377.1 1450.7,1374.2 1451.6,1371.3 1452.6,1368.5 1453.5,1365.6 1454.5,1362.8 1455.6,1359.9 1456.7,1357.1 1457.8,1354.4 1459.0,1351.6 1460.3,1348.9 1461.7,1346.2 1463.1,1343.5 1464.6,1340.9 1466.2,1338.3 1468.0,1335.7 1469.8,1333.2 1471.7,1330.7 1473.7,1328.3 1475.8,1325.9 1478.0,1323.7 1480.4,1321.8 1482.7,1320.2 1485.1,1319.1 1487.6,1318.5 1490.1,1318.5 1492.6,1319.1 1495.1,1320.1 1497.6,1321.5 1500.0,1323.1 1502.4,1325.0 1504.7,1327.1 1507.0,1329.4 1509.2,1331.8 1511.3,1334.3 1513.4,1336.8 1515.3,1339.4 1517.1,1342.1 1518.8,1344.7 1520.5,1347.3 1522.0,1349.8 1523.5,1352.4 1524.9,1355.0 1526.3,1357.5 1527.6,1360.1 1529.0,1362.6 1530.3,1365.1 1531.7,1367.7 1533.1,1370.2 1534.5,1372.7 1536.0,1375.2 1537.6,1377.7 1539.2,1380.2 1541.0,1382.7 1542.8,1385.2 1544.8,1387.7 1547.0,1390.1 1549.2,1392.5 1551.5,1394.8 1553.9,1397.0 1556.4,1398.9 1559.0,1400.7 1561.6,1402.2 1564.2,1403.4 1566.9,1404.3 1569.6,1404.9 1572.3,1405.0 1575.0,1404.8 1577.6,1404.0 1580.2,1402.9 1582.8,1401.5 1585.4,1399.8 1587.8,1398.0 1590.2,1396.0 1592.5,1393.9 1594.7,1391.7 1596.9,1389.5 1598.9,1387.1 1600.8,1384.8 1602.7,1382.3 1604.5,1379.8 1606.1,1377.3 1607.7,1374.7 1609.2,1372.1 1610.6,1369.4 1611.9,1366.7 1613.1,1364.0 1614.3,1361.3 1615.5,1358.5 1616.6,1355.8 1617.7,1353.0 1618.8,1350.3 1619.9,1347.5 1621.1,1344.8 1622.2,1342.0 1623.4,1339.3 1624.7,1336.6 1626.0,1333.9 1627.4,1331.3 1628.9,1328.6 1630.4,1326.0 1632.1,1323.5 1633.9,1321.0 1635.9,1318.5 1638.0,1316.1 1640.2,1313.9 1642.5,1311.8 1645.0,1310.0 1647.6,1308.4 1650.3,1307.1 1653.1,1306.2 1656.0,1305.6 1659.0,1305.2 1662.0,1304.8 1664.9,1304.3 1667.8,1303.8 1670.6,1303.0 1673.3,1301.9 1675.9,1300.5 1678.4,1298.9 1680.6,1297.1 1682.7,1295.1 1684.7,1292.9 1686.4,1290.5 1687.8,1288.0 1689.1,1285.4 1690.3,1282.7 1691.3,1279.9 1692.2,1277.0 1693.0,1274.2 1693.8,1271.3 1694.6,1268.3 1695.4,1265.4 1696.1,1262.5 1696.8,1259.6 1697.5,1256.6 1698.2,1253.7 1698.8,1250.7 1699.5,1247.8 1700.1,1244.8 1700.7,1241.8 1701.3,1238.9 1701.8,1235.9 1702.4,1232.9 1702.9,1229.9 1703.4,1227.0 1703.9,1224.0 1704.4,1221.0 1704.9,1218.0 1705.4,1215.0 1705.9,1212.1 1706.3,1209.1 1706.8,1206.1 1707.2,1203.2 1707.6,1200.2 1708.1,1197.2 1708.5,1194.2 1708.9,1191.3 1709.3,1188.3 1709.7,1185.4 1710.1,1182.4 1710.4,1179.4 1710.8,1176.5 1711.2,1173.5 1711.5,1170.5 1711.9,1167.6 1712.2,1164.6 1712.5,1161.6 1712.9,1158.7 1713.2,1155.7 1713.5,1152.7 1713.8,1149.8 1714.1,1146.8 1714.4,1143.8 1714.7,1140.8 1715.0,1137.9 1715.3,1134.9 1715.6,1131.9 1715.8,1128.9 1716.1,1125.9 1716.4,1122.9 1716.6,1120.0 1716.9,1117.0 1717.2,1114.0 1717.4,1111.0 1717.7,1108.0 1717.9,1105.0 1718.1,1102.0 1718.4,1099.0 1718.6,1096.0 1718.9,1093.0 1719.1,1090.0 1719.3,1087.0 1719.5,1084.0 1719.8,1081.0 1720.0,1078.0 1720.2,1075.0 1720.4,1072.1 1720.7,1069.1 1720.9,1066.1 1721.1,1063.1 1721.3,1060.1 1721.5,1057.1 1721.7,1054.1 1721.9,1051.1 1722.1,1048.1 1722.4,1045.1 1722.6,1042.1 1722.8,1039.1 1723.0,1036.1 1723.2,1033.1 1723.4,1030.1 1723.6,1027.1 1723.8,1024.1 1724.0,1021.1 1724.1,1018.1 1724.3,1015.1 1724.5,1012.1 1724.7,1009.1 1724.9,1006.2 1725.1,1003.2 1725.3,1000.2 1725.5,997.2 1725.7,994.2 1725.8,991.2 1726.0,988.2 1726.2,985.2 1726.4,982.2 1726.6,979.2 1726.7,976.2 1726.9,973.2 1727.1,970.2 1727.3,967.2 1727.4,964.2 1727.6,961.2 1727.8,958.2 1728.0,955.2 1728.1,952.2 1728.3,949.2 1728.5,946.2 1728.6,943.2 1728.8,940.3 1729.0,937.3 1729.1,934.3 1729.3,931.3 1729.4,928.3 1729.6,925.3 1729.8,922.3 1729.9,919.3 1730.1,916.3 1730.2,913.3 1730.4,910.3 1730.6,907.3 1730.7,904.3 1730.9,901.3 1731.0,898.3 1731.2,895.3 1731.3,892.3 1731.5,889.3 1731.6,886.3 1731.8,883.3 1731.9,880.4 1732.1,877.4 1732.3,874.4 1732.4,871.4 1732.6,868.4 1732.7,865.4 1732.8,862.4 1733.0,859.4 1733.1,856.4 1733.3,853.4 1733.4,850.4 1733.6,847.4 1733.7,844.4 1733.9,841.4 1734.0,838.4 1734.2,835.4 1734.3,832.4 1734.5,829.4 1734.6,826.4 1734.7,823.5 1734.9,820.5 1735.0,817.5 1735.2,814.5 1735.3,811.5 1735.5,808.5 1735.6,805.5 1735.8,802.5 1735.9,799.5 1736.0,796.5 1736.2,793.5 1736.3,790.5 1736.5,787.5 1736.6,784.5 1736.8,781.5 1736.9,778.5 1737.0,775.5 1737.2,772.5 1737.3,769.5 1737.5,766.6 1737.6,763.6 1737.8,760.6 1737.9,757.6 1738.0,754.6 1738.2,751.6 1738.3,748.6 1738.5,745.6 1738.6,742.6 1738.8,739.6 1738.9,736.6 1739.1,733.6 1739.2,730.6 1739.3,727.6 1739.5,724.6 1739.6,721.6 1739.8,718.6 1739.9,715.6 1740.1,712.7 1740.2,709.7 1740.4,706.7 1740.5,703.7 1740.7,700.7 1740.8,697.7 1741.0,694.7 1741.1,691.7 1741.3,688.7 1741.4,685.7 1741.6,682.7 1741.7,679.7 1741.9,676.7 1742.0,673.7 1742.2,670.7 1742.4,667.7 1742.5,664.7 1742.7,661.7 1742.8,658.8 1743.0,655.8 1743.1,652.8 1743.3,649.8 1743.5,646.8 1743.6,643.8 1743.8,640.8 1743.9,637.8 1744.1,634.8 1744.3,631.8 1744.4,628.8 1744.6,625.8 1744.8,622.8 1744.9,619.8 1745.1,616.8 1745.3,613.8 1745.4,610.8 1745.6,607.8 1745.8,604.8 1746.0,601.9 1746.1,598.9 1746.3,595.9 1746.5,592.9 1746.7,589.9 1746.9,586.9 1747.0,583.9 1747.2,580.9 1747.4,577.9 1747.6,574.9 1747.8,571.9 1747.9,568.9 1748.1,565.9 1748.3,562.9 1748.5,559.9 1748.7,556.9 1748.9,553.9 1749.1,550.9 1749.3,548.0 1749.5,545.0 1749.7,542.0 1749.9,539.0 1750.0,536.0 1750.2,533.0 1750.4,530.0 1750.6,527.0 1750.8,524.0 1751.0,521.0 1751.2,518.0 1751.4,515.0 1751.6,512.0 1751.8,509.0 1752.0,506.0 1752.2,503.0 1752.4,500.0 1752.6,497.0 1752.8,494.0 1753.0,491.1 1753.2,488.1 1753.4,485.1 1753.5,482.1 1753.7,479.1 1753.9,476.1 1754.1,473.1 1754.3,470.1 1754.5,467.1 1754.7,464.1 1754.9,461.1 1755.1,458.1 1755.2,455.1 1755.4,452.1 1755.6,449.1 1755.8,446.1 1756.0,443.1 1756.1,440.1 1756.3,437.1 1756.5,434.2 1756.7,431.2 1756.8,428.2 1757.0,425.2 1757.2,422.2 1757.3,419.2 1757.5,416.2 1757.7,413.2 1757.8,410.2 1758.0,407.2 1758.2,404.2 1758.3,401.2 1758.5,398.2 1758.6,395.2 1758.8,392.2 1758.9,389.2 1759.0,386.2 1759.2,383.2 1759.3,380.2 1759.5,377.3 1759.6,374.3 1759.7,371.3 1759.9,368.3 1760.0,365.3 1760.1,362.3 1760.2,359.3 1760.4,356.3 1760.5,353.3 1760.6,350.3 1760.8,347.3 1760.9,344.3 1761.0,341.3 1761.2,338.3 1761.3,335.3 1761.5,332.3 1761.6,329.3 1761.8,326.3 1761.9,323.3 1762.1,320.3 1762.3,317.3 1762.4,314.4 1762.6,311.4 1762.8,308.4 1763.0,305.4 1763.2,302.4 1763.4,299.4 1763.6,296.4 1763.9,293.4 1764.1,290.4 1764.3,287.4 1764.6,284.4 1764.9,281.4 1765.1,278.4 1765.4,275.4 1765.7,272.4 1766.0,269.4 1766.3,266.4 1766.7,263.4 1767.0,260.4 1767.4,257.4 1767.8,254.4 1768.2,251.4 1768.6,248.5 1769.0,245.5 1769.4,242.5 1769.9,239.5 1770.3,236.5 1770.8,233.5 1771.3,230.5 1771.8,227.5 1772.4,224.5 1773.0,221.5 1773.5,218.6 1774.2,215.6 1774.8,212.7 1775.5,209.7 1776.2,206.8 1776.9,203.8 1777.6,200.9 1778.4,198.0 1779.2,195.1 1780.1,192.3 1780.9,189.6 1781.8,187.3 1782.7,185.7 1783.6,185.0 1784.4,185.4 1785.3,186.7 1786.1,188.8 1786.9,191.4 1787.7,194.5 1788.5,197.9 1789.3,201.4 1790.0,205.1 1790.7,208.7 1791.4,212.2 1792.1,215.6 1792.7,218.8 1793.3,221.9 1793.9,224.9 1794.4,227.9 1795.0,230.7 1795.5,233.5 1796.0,236.2 1796.5,238.9 1796.9,241.7 1797.3,244.4 1797.8,247.2 1798.2,249.9 1798.5,252.8 1798.9,255.6 1799.3,258.5 1799.6,261.4 1799.9,264.3 1800.2,267.2 1800.5,270.2 1800.8,273.1 1801.1,276.1 1801.4,279.1 1801.6,282.1 1801.9,285.1 1802.1,288.1 1802.3,291.2 1802.6,294.2 1802.8,297.2 1803.0,300.3 1803.2,303.3 1803.4,306.3 1803.7,309.4 1803.9,312.4 1804.1,315.4 1804.3,318.4 1804.5,321.5 1804.6,324.5 1804.8,327.5 1805.0,330.5 1805.2,333.5 1805.4,336.5 1805.6,339.6 1805.7,342.6 1805.9,345.6 1806.1,348.6 1806.2,351.6 1806.4,354.6 1806.6,357.6 1806.7,360.6 1806.9,363.7 1807.0,366.7 1807.2,369.7 1807.3,372.7 1807.5,375.7 1807.6,378.7 1807.8,381.7 1807.9,384.7 1808.1,387.7 1808.2,390.7 1808.4,393.7 1808.5,396.7 1808.6,399.7 1808.8,402.7 1808.9,405.7 1809.1,408.7 1809.2,411.7 1809.3,414.7 1809.5,417.7 1809.6,420.7 1809.7,423.7 1809.9,426.7 1810.0,429.6 1810.1,432.6 1810.3,435.6 1810.4,438.6 1810.5,441.6 1810.7,444.6 1810.8,447.6 1810.9,450.6 1811.1,453.6 1811.2,456.6 1811.4,459.6 1811.5,462.6 1811.6,465.6 1811.8,468.5 1811.9,471.5 1812.1,474.5 1812.2,477.5 1812.4,480.5 1812.5,483.5 1812.7,486.5 1812.8,489.5 1813.0,492.5 1813.1,495.5 1813.3,498.5 1813.4,501.5 1813.6,504.5 1813.7,507.4 1813.9,510.4 1814.0,513.4 1814.2,516.4 1814.4,519.4 1814.5,522.4 1814.7,525.4 1814.9,528.4 1815.0,531.4 1815.2,534.4 1815.4,537.4 1815.5,540.4 1815.7,543.4 1815.9,546.3 1816.0,549.3 1816.2,552.3 1816.4,555.3 1816.6,558.3 1816.7,561.3 1816.9,564.3 1817.1,567.3 1817.3,570.3 1817.5,573.3 1817.6,576.3 1817.8,579.3 1818.0,582.3 1818.2,585.3 1818.3,588.3 1818.5,591.2 1818.7,594.2 1818.9,597.2 1819.1,600.2 1819.3,603.2 1819.4,606.2 1819.6,609.2 1819.8,612.2 1820.0,615.2 1820.2,618.2 1820.4,621.2 1820.5,624.2 1820.7,627.2 1820.9,630.2 1821.1,633.2 1821.3,636.2 1821.5,639.2 1821.7,642.1 1821.8,645.1 1822.0,648.1 1822.2,651.1 1822.4,654.1 1822.6,657.1 1822.8,660.1 1823.0,663.1 1823.1,666.1 1823.3,669.1 1823.5,672.1 1823.7,675.1 1823.9,678.1 1824.1,681.1 1824.3,684.1 1824.4,687.1 1824.6,690.1 1824.8,693.0 1825.0,696.0 1825.2,699.0 1825.4,702.0 1825.5,705.0 1825.7,708.0 1825.9,711.0 1826.1,714.0 1826.3,717.0 1826.4,720.0 1826.6,723.0 1826.8,726.0 1827.0,729.0 1827.1,732.0 1827.3,735.0 1827.5,738.0 1827.7,741.0 1827.8,744.0 1828.0,747.0 1828.2,749.9 1828.4,752.9 1828.5,755.9 1828.7,758.9 1828.9,761.9 1829.0,764.9 1829.2,767.9 1829.4,770.9 1829.5,773.9 1829.7,776.9 1829.9,779.9 1830.0,782.9 1830.2,785.9 1830.3,788.9 1830.5,791.9 1830.7,794.9 1830.8,797.9 1831.0,800.9 1831.1,803.9 1831.3,806.8 1831.4,809.8 1831.6,812.8 1831.7,815.8 1831.9,818.8 1832.0,821.8 1832.2,824.8 1832.3,827.8 1832.5,830.8 1832.6,833.8 1832.7,836.8 1832.9,839.8 1833.0,842.8 1833.2,845.8 1833.3,848.8 1833.4,851.8 1833.6,854.8 1833.7,857.8 1833.9,860.7 1834.0,863.7 1834.1,866.7 1834.3,869.7 1834.4,872.7 1834.6,875.7 1834.7,878.7 1834.8,881.7 1835.0,884.7 1835.1,887.7 1835.2,890.7 1835.4,893.7 1835.5,896.7 1835.7,899.7 1835.8,902.7 1835.9,905.7 1836.1,908.7 1836.2,911.6 1836.4,914.6 1836.5,917.6 1836.7,920.6 1836.8,923.6 1836.9,926.6 1837.1,929.6 1837.2,932.6 1837.4,935.6 1837.5,938.6 1837.7,941.6 1837.8,944.6 1838.0,947.6 1838.1,950.6 1838.3,953.6 1838.4,956.5 1838.6,959.5 1838.8,962.5 1838.9,965.5 1839.1,968.5 1839.2,971.5 1839.4,974.5 1839.6,977.5 1839.7,980.5 1839.9,983.5 1840.1,986.5 1840.2,989.5 1840.4,992.5 1840.6,995.5 1840.8,998.4 1840.9,1001.4 1841.1,1004.4 1841.3,1007.4 1841.5,1010.4 1841.7,1013.4 1841.9,1016.4 1842.1,1019.4 1842.2,1022.4 1842.4,1025.4 1842.6,1028.4 1842.8,1031.4 1843.0,1034.3 1843.2,1037.3 1843.5,1040.3 1843.7,1043.3 1843.9,1046.3 1844.1,1049.3 1844.3,1052.3 1844.5,1055.3 1844.7,1058.3 1845.0,1061.3 1845.2,1064.3 1845.4,1067.2 1845.6,1070.2 1845.9,1073.2 1846.1,1076.2 1846.3,1079.2 1846.6,1082.2 1846.8,1085.2 1847.1,1088.2 1847.3,1091.2 1847.6,1094.2 1847.8,1097.2 1848.1,1100.1 1848.3,1103.1 1848.6,1106.1 1848.8,1109.1 1849.1,1112.1 1849.4,1115.1 1849.6,1118.1 1849.9,1121.1 1850.2,1124.1 1850.4,1127.0 1850.7,1130.0 1851.0,1133.0 1851.3,1136.0 1851.5,1139.0 1851.8,1142.0 1852.1,1145.0 1852.4,1148.0 1852.7,1151.0 1853.0,1153.9 1853.3,1156.9 1853.6,1159.9 1853.9,1162.9 1854.2,1165.9 1854.5,1168.9 1854.8,1171.9 1855.1,1174.9 1855.4,1177.8 1855.7,1180.8 1856.0,1183.8 1856.4,1186.8 1856.7,1189.8 1857.0,1192.8 1857.3,1195.8 1857.7,1198.8 1858.0,1201.7 1858.3,1204.7 1858.7,1207.7 1859.0,1210.7 1859.3,1213.7 1859.7,1216.7 1860.0,1219.7 1860.4,1222.6 1860.7,1225.6 1861.1,1228.6 1861.4,1231.6 1861.8,1234.6 1862.1,1237.6 1862.5,1240.6 1862.8,1243.5 1863.2,1246.5 1863.6,1249.5 1863.9,1252.5 1864.3,1255.5 1864.7,1258.5 1865.1,1261.5 1865.5,1264.4 1865.8,1267.4 1866.2,1270.4 1866.6,1273.4 1867.0,1276.4 1867.4,1279.4 1867.8,1282.3 1868.2,1285.3 1868.6,1288.3 1869.0,1291.3 1869.4,1294.3 1869.8,1297.3 1870.2,1300.2 1870.6,1303.2 1871.0,1306.2 1871.4,1309.2 1871.9,1312.2 1872.3,1315.1 1872.8,1318.1 1873.2,1321.1 1873.7,1324.0 1874.1,1327.0 1874.6,1330.0 1875.1,1332.9 1875.6,1335.9 1876.1,1338.9 1876.6,1341.8 1877.1,1344.8 1877.7,1347.7 1878.2,1350.7 1878.8,1353.6 1879.3,1356.5 1879.9,1359.5 1880.5,1362.4 1881.1,1365.3 1881.7,1368.2 1882.4,1371.2 1883.0,1374.1 1883.7,1377.0 1884.4,1379.9 1885.1,1382.8 1885.8,1385.7 1886.6,1388.6 1887.3,1391.4 1888.1,1394.3 1888.9,1397.2 1889.7,1400.0 1890.5,1402.9 1891.4,1405.7 1892.3,1408.6 1893.2,1411.4 1894.1,1414.3 1895.0,1417.1 1896.0,1419.9 1897.0,1422.7 1898.0,1425.5 1899.0,1428.3 1900.0,1431.1 1901.1,1433.9 1902.2,1436.6 1903.4,1439.4 1904.5,1442.1 1905.7,1444.9 1906.9,1447.6 1908.1,1450.3 1909.4,1453.0 1910.7,1455.7 1912.0,1458.4 1913.4,1461.1 1914.7,1463.8 1916.2,1466.5 1917.6,1469.1 1919.1,1471.8 1920.6,1474.4 1922.1,1477.0 1923.7,1479.6 1925.3,1482.3 1926.9,1484.8 1928.6,1487.4 1930.3,1490.0 1932.0,1492.5 1933.8,1495.0 1935.6,1497.5 1937.5,1499.9 1939.4,1502.3 1941.4,1504.6 1943.3,1506.9 1945.4,1509.1 1947.5,1511.2 1949.6,1513.3 1951.8,1515.3 1954.1,1517.2 1956.4,1519.1 1958.7,1520.8 1961.1,1522.4 1963.6,1524.0 1966.1,1525.5 1968.7,1526.8 1971.3,1528.1 1974.0,1529.4 1976.7,1530.5 1979.4,1531.6 1982.2,1532.6 1985.0,1533.6 1987.8,1534.5 1990.7,1535.3 1993.6,1536.1 1996.5,1536.8 1999.4,1537.5 2002.4,1538.2 2005.4,1538.8 2008.4,1539.4 2011.4,1540.0 2014.4,1540.6 2017.4,1541.1 2020.4,1541.6 2023.4,1542.1 2026.4,1542.6 2029.4,1543.1 2032.4,1543.6 2035.4,1544.0 2038.4,1544.5 2041.5,1545.0 2044.5,1545.4 2047.5,1545.8 2050.5,1546.2 2053.5,1546.7 2056.5,1547.1 2059.5,1547.4 2062.5,1547.8 2065.5,1548.2 2068.5,1548.6 2071.4,1548.9 2074.4,1549.2 2077.4,1549.6 2080.4,1549.9 2083.4,1550.2 2086.4,1550.5 2089.4,1550.8 2092.4,1551.0 2095.4,1551.3 2098.4,1551.6 2101.3,1551.8 2104.3,1552.0 2107.3,1552.2 2110.3,1552.4 2113.3,1552.6 2116.3,1552.8 2119.3,1553.0 2122.2,1553.1 2125.2,1553.3 2128.2,1553.4 2131.2,1553.5 2134.2,1553.6 2137.1,1553.7 2140.1,1553.8 2143.1,1553.9 2146.1,1553.9 2149.1,1554.0 2152.0,1554.0 2155.0,1554.1 2158.0,1554.1 2161.0,1554.2 2164.0,1554.3 2166.9,1554.4 2169.9,1554.5 2172.9,1554.6 2175.9,1554.8 2178.9,1555.1 2181.8,1555.3 2184.8,1555.6 2187.8,1555.9 2190.8,1556.3 2193.7,1556.6 2196.7,1556.8 2199.7,1557.1 2202.7,1557.2 2205.7,1557.4 2208.7,1557.4 2211.6,1557.3 2214.6,1557.2 2217.6,1556.9 2220.6,1556.5 2223.6,1556.0 2226.6,1555.5 2229.5,1555.0 2232.5,1554.5 2235.5,1554.1 2238.5,1553.7 2241.5,1553.4 2244.4,1553.3 2247.4,1553.3 2250.4,1553.6 2253.4,1554.0 2256.3,1554.7 2259.3,1555.5 2262.3,1556.5 2265.2,1557.4 2268.2,1558.4 2271.2,1559.3 2274.1,1560.1 2277.1,1560.7 2280.0,1561.0 2282.9,1561.1 2285.9,1561.0 2288.8,1560.8 2291.8,1560.3 2294.7,1559.7 2297.6,1559.0 2300.5,1558.3 2303.4,1557.5 2306.3,1556.7 2309.2,1555.9 2312.1,1555.1 2315.0,1554.5 2317.9,1553.9" stroke="#008000" stroke-width="8.2"/>
</g>
<text transform="matrix(0.9755,0,0,1.0177,1571.0,243.88)" font-size="88" font-weight="normal" fill="#0000ff">657</text>
<text transform="matrix(1.0073,0,0,1.0129,1718.47,148.89)" font-size="88" font-weight="normal" fill="#008000" clip-path="url(#clip_p681)">681</text>
<text transform="matrix(0.9848,0,0,1.0115,1853.68,564.9)" font-size="88" font-weight="normal" fill="#ff0000" clip-path="url(#clip_p712)">712</text>
<line x1="1011.5" y1="638.1" x2="1205.5" y2="638.1" stroke="#008000" stroke-width="8.2" stroke-linecap="round"/>
<line x1="1011.5" y1="744.5" x2="1205.5" y2="744.5" stroke="#0000ff" stroke-width="8.2" stroke-linecap="round"/>
<line x1="1011.5" y1="850.8" x2="1205.5" y2="850.8" stroke="#ff0000" stroke-width="8.2" stroke-linecap="round"/>
<text transform="matrix(1.0126,0,0,1.0517,1227.64,668.6)" font-size="88" font-weight="normal" fill="#000">7n</text>
<text transform="matrix(0.957,0,0,1.0246,1228.02,774.58)" font-size="88" font-weight="normal" fill="#000">7a</text>
<text transform="matrix(1.0271,0,0,1.0295,1227.66,881.37)" font-size="88" font-weight="normal" fill="#000">7c</text>
<text transform="matrix(0.9452,0,0,1.0295,297.67,433.07)" font-size="88" font-weight="normal" fill="#000">7a</text>
<text transform="matrix(0.9977,0,0,1.0233,795.71,433.0)" font-size="88" font-weight="normal" fill="#000">7n</text>
<text transform="matrix(1.0235,0,0,1.0246,1293.18,433.08)" font-size="88" font-weight="normal" fill="#000">7c</text>
<text transform="matrix(0.9957,0,0,1.1031,530.31,171.0)" font-size="47" font-weight="normal" fill="#000">+OH</text>
<text transform="matrix(0.9607,0,0,1.0656,1055.18,173.3)" font-size="47" font-weight="normal" fill="#000">+H</text>
<text transform="matrix(1.2,0,0,1.3,627.1,152.7)" font-size="30" font-weight="normal" fill="#000">-</text>
<text transform="matrix(1.22,0,0,1.15,1115.18,152.95)" font-size="30" font-weight="normal" fill="#000">+</text>
<text transform="matrix(0.8955,0,0,1.2333,442.41,113.17)" font-size="46" font-weight="normal" fill="#0000ff">−</text>
<text transform="matrix(0.9391,0,0,0.913,1443.32,109.05)" font-size="46" font-weight="normal" fill="#ff0000">+</text>
<text transform="matrix(0.9812,0,0,1.1125,325.64,126.4)" font-size="46" font-weight="bold" fill="#0000ff">O</text>
<text transform="matrix(0.9538,0,0,1.0406,328.54,223.3)" font-size="46" font-weight="bold" fill="#0000ff">P</text>
<text transform="matrix(1.0312,0,0,1.1344,324.94,322.3)" font-size="46" font-weight="bold" fill="#0000ff">O</text>
<text transform="matrix(1.0062,0,0,1.0938,826.59,130.4)" font-size="46" font-weight="bold" fill="#008000">OH</text>
<text transform="matrix(0.9962,0,0,1.0656,829.21,227.5)" font-size="46" font-weight="bold" fill="#008000">P</text>
<text transform="matrix(1.0344,0,0,1.0969,826.43,325.8)" font-size="46" font-weight="bold" fill="#008000">O</text>
<text transform="matrix(1.0234,0,0,1.1219,1316.15,122.8)" font-size="46" font-weight="bold" fill="#ff0000">OH</text>
<text transform="matrix(1.0346,0,0,1.025,1318.6,219.3)" font-size="46" font-weight="bold" fill="#ff0000">P</text>
<text transform="matrix(1.0234,0,0,1.0969,1316.15,317.6)" font-size="46" font-weight="bold" fill="#ff0000">OH</text>

<ellipse cx="343.2" cy="208.1" rx="116.6" ry="46.8" stroke="#0000ff" stroke-width="4" fill="none"/>
<line x1="343.6" y1="136.2" x2="343.6" y2="181.6" stroke="#0000ff" stroke-width="4.2"/>
<line x1="334.7" y1="233.3" x2="334.7" y2="279" stroke="#0000ff" stroke-width="4.2"/>
<line x1="352.2" y1="233.3" x2="352.2" y2="279" stroke="#0000ff" stroke-width="4.2"/>
<ellipse cx="838.8" cy="210.7" rx="116.4" ry="47" stroke="#008000" stroke-width="4" fill="none"/>
<line x1="845.1" y1="140.4" x2="845.1" y2="185.7" stroke="#008000" stroke-width="4.2"/>
<line x1="835.4" y1="238" x2="835.4" y2="282.5" stroke="#008000" stroke-width="4.2"/>
<line x1="853.4" y1="238" x2="853.4" y2="282.5" stroke="#008000" stroke-width="4.2"/>
<ellipse cx="1334.6" cy="204.4" rx="116.5" ry="47" stroke="#ff0000" stroke-width="4" fill="none"/>
<line x1="1335" y1="132.6" x2="1335" y2="177.1" stroke="#ff0000" stroke-width="4.2"/>
<line x1="1335" y1="229.8" x2="1335" y2="274.3" stroke="#ff0000" stroke-width="4.2"/>
<path d="M508,200.7 H630" stroke="#000" stroke-width="4.4"/>
<path d="M624.8,188.9 L664.5,202.9 L628,202.9 L630,198.5 Z"/>
<path d="M537,212.5 H659.2" stroke="#000" stroke-width="4.4"/>
<path d="M541.5,223.4 L501.3,210.3 L537.5,210.3 L536,215 Z"/>
<path d="M1012.6,199.3 H1135" stroke="#000" stroke-width="4.4"/>
<path d="M1129.7,188.8 L1168.4,201.5 L1133,201.5 L1134.5,197 Z"/>
<path d="M1042,211.8 H1162.5" stroke="#000" stroke-width="4.4"/>
<path d="M1045.4,221.6 L1005.6,209.6 L1041.5,209.6 L1040,214 Z"/>

</svg>
</body></html>
